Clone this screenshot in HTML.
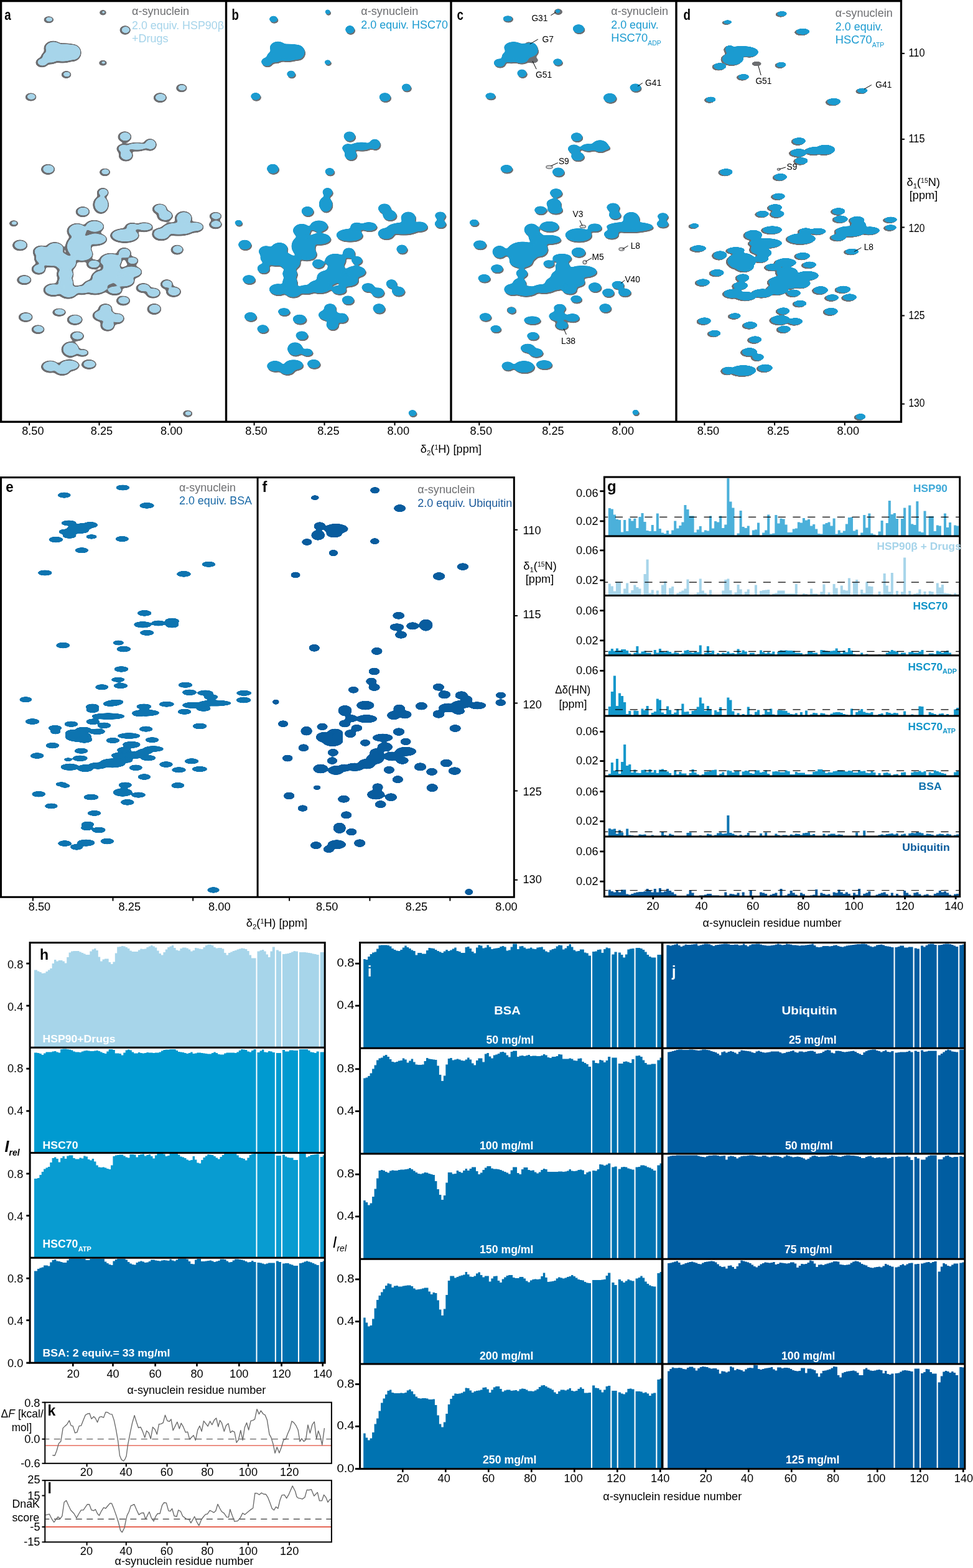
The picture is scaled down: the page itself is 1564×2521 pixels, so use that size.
<!DOCTYPE html>
<html lang="en">
<head>
<meta charset="utf-8">
<title>Figure: alpha-synuclein chaperone interactions</title>
<style>
html,body{margin:0;padding:0;background:#fff;}
body{width:1564px;height:2521px;overflow:hidden;}
svg{display:block;font-family:"Liberation Sans",sans-serif;}
</style>
</head>
<body>
<svg width="1564" height="2521" viewBox="0 0 1564 2521">
<rect width="1564" height="2521" fill="#fff"/>
<defs>
<filter id="goo" x="-3%" y="-3%" width="106%" height="106%" color-interpolation-filters="sRGB"><feGaussianBlur stdDeviation="2.0"/><feComponentTransfer><feFuncA type="linear" slope="9" intercept="-4"/></feComponentTransfer></filter>
<filter id="goo2" x="-3%" y="-3%" width="106%" height="106%" color-interpolation-filters="sRGB"><feGaussianBlur stdDeviation="1.2"/><feComponentTransfer><feFuncA type="linear" slope="9" intercept="-4"/></feComponentTransfer></filter>
<clipPath id="ca"><rect x="3" y="3" width="359" height="673.5"/></clipPath>
<clipPath id="cb"><rect x="365" y="3" width="358.5" height="673.5"/></clipPath>
<clipPath id="cc"><rect x="726.5" y="3" width="359" height="673.5"/></clipPath>
<clipPath id="cd"><rect x="1088.5" y="3" width="358.5" height="673.5"/></clipPath>
<clipPath id="ce"><rect x="3" y="769" width="409.6" height="671.8"/></clipPath>
<clipPath id="cf"><rect x="415.6" y="769" width="409.2" height="671.8"/></clipPath>
</defs>
<g clip-path="url(#ca)">
<g fill="#6d6e71" filter="url(#goo)">
<ellipse cx="78.31" cy="31.74" rx="8.38" ry="5.77"/>
<ellipse cx="165.45" cy="20.25" rx="5.99" ry="4.57"/>
<ellipse cx="201.13" cy="48.5" rx="9.02" ry="7.47"/>
<ellipse cx="85.49" cy="77.71" rx="15.27" ry="12.09"/>
<ellipse cx="107.04" cy="82.5" rx="22.55" ry="12.97"/>
<ellipse cx="80.7" cy="92.07" rx="15.16" ry="11.43"/>
<ellipse cx="67.54" cy="100.45" rx="10.56" ry="8.13"/>
<ellipse cx="116.62" cy="84.89" rx="14.17" ry="14.17"/>
<ellipse cx="99.86" cy="85.37" rx="28.53" ry="16.09"/>
<ellipse cx="165.45" cy="101.17" rx="6.95" ry="4.57"/>
<ellipse cx="106.56" cy="120.08" rx="8.38" ry="6.25"/>
<ellipse cx="49.58" cy="156" rx="9.39" ry="6.81"/>
<ellipse cx="291.86" cy="141.63" rx="9.15" ry="6.81"/>
<ellipse cx="257.39" cy="157.19" rx="11.04" ry="8.13"/>
<ellipse cx="200.41" cy="220.16" rx="11.2" ry="9.12"/>
<ellipse cx="198.01" cy="239.31" rx="11.04" ry="8.13"/>
<ellipse cx="241.11" cy="232.85" rx="10.88" ry="10.11"/>
<ellipse cx="219.56" cy="236.2" rx="18.11" ry="7.47"/>
<ellipse cx="202.32" cy="250.08" rx="11.78" ry="9.78"/>
<ellipse cx="77.11" cy="272.35" rx="11.38" ry="8.79"/>
<ellipse cx="168.57" cy="276.9" rx="9.1" ry="6.49"/>
<ellipse cx="165.21" cy="309.96" rx="9.84" ry="8.13"/>
<ellipse cx="162.1" cy="329.35" rx="12.97" ry="14.65"/>
<ellipse cx="132.89" cy="340.6" rx="11.62" ry="8.79"/>
<ellipse cx="22.05" cy="359.28" rx="7.66" ry="5.29"/>
<ellipse cx="32.1" cy="394.47" rx="12.4" ry="9.12"/>
<ellipse cx="256.67" cy="336.29" rx="12.16" ry="9.12"/>
<ellipse cx="265.05" cy="347.07" rx="12.98" ry="9.78"/>
<ellipse cx="294.97" cy="351.38" rx="14.07" ry="12.09"/>
<ellipse cx="346.45" cy="347.78" rx="10.4" ry="7.14"/>
<ellipse cx="346.45" cy="360.95" rx="10.93" ry="7.47"/>
<ellipse cx="312.93" cy="365.26" rx="14.79" ry="9.12"/>
<ellipse cx="286.59" cy="368.13" rx="28.33" ry="11.43"/>
<ellipse cx="259.06" cy="376.51" rx="15.06" ry="10.77"/>
<ellipse cx="231.53" cy="365.26" rx="14.63" ry="8.13"/>
<ellipse cx="212.38" cy="365.26" rx="12.13" ry="7.47"/>
<ellipse cx="200.41" cy="378.91" rx="23.65" ry="12.09"/>
<ellipse cx="151.33" cy="364.54" rx="16.25" ry="10.77"/>
<ellipse cx="123.8" cy="371.72" rx="16.56" ry="12.97"/>
<ellipse cx="152.53" cy="384.89" rx="19.84" ry="10.77"/>
<ellipse cx="126.19" cy="396.86" rx="21.35" ry="20.16"/>
<ellipse cx="87.89" cy="400.45" rx="15.16" ry="11.43"/>
<ellipse cx="66.34" cy="405.24" rx="13.86" ry="10.77"/>
<ellipse cx="83.1" cy="416.02" rx="28.53" ry="14.17"/>
<ellipse cx="130.98" cy="408.83" rx="18.96" ry="12.97"/>
<ellipse cx="104.64" cy="423.2" rx="18.96" ry="14.17"/>
<ellipse cx="62.03" cy="432.77" rx="11.68" ry="9.12"/>
<ellipse cx="150.13" cy="425.11" rx="11.52" ry="8.13"/>
<ellipse cx="199.45" cy="407.64" rx="11.78" ry="9.78"/>
<ellipse cx="212.38" cy="419.61" rx="10.45" ry="7.47"/>
<ellipse cx="177.66" cy="419.61" rx="18.96" ry="12.97"/>
<ellipse cx="178.86" cy="435.17" rx="16.56" ry="16.56"/>
<ellipse cx="209.98" cy="437.56" rx="18.65" ry="10.77"/>
<ellipse cx="104.64" cy="441.15" rx="13.97" ry="11.43"/>
<ellipse cx="38.81" cy="450.25" rx="12" ry="8.13"/>
<ellipse cx="104.64" cy="454.32" rx="13.97" ry="11.43"/>
<ellipse cx="166.89" cy="447.14" rx="21.35" ry="14.17"/>
<ellipse cx="198.01" cy="451.93" rx="18.75" ry="11.43"/>
<ellipse cx="152.53" cy="461.5" rx="21.35" ry="12.97"/>
<ellipse cx="85.49" cy="466.29" rx="16.25" ry="10.77"/>
<ellipse cx="109.43" cy="468.68" rx="16.47" ry="12.09"/>
<ellipse cx="130.98" cy="466.29" rx="15.83" ry="8.13"/>
<ellipse cx="183.65" cy="467.01" rx="13.43" ry="8.13"/>
<ellipse cx="230.33" cy="463.18" rx="12.24" ry="8.13"/>
<ellipse cx="245.89" cy="471.08" rx="12.34" ry="8.79"/>
<ellipse cx="267.92" cy="457.19" rx="10.56" ry="8.13"/>
<ellipse cx="278.93" cy="469.16" rx="12.34" ry="8.79"/>
<ellipse cx="198.01" cy="483.53" rx="11.52" ry="8.13"/>
<ellipse cx="247.81" cy="496.93" rx="11.68" ry="9.12"/>
<ellipse cx="169.28" cy="496.22" rx="11.52" ry="8.13"/>
<ellipse cx="166.89" cy="507.47" rx="18.65" ry="10.77"/>
<ellipse cx="188.44" cy="512.26" rx="11.68" ry="9.12"/>
<ellipse cx="172.88" cy="523.27" rx="11.78" ry="9.78"/>
<ellipse cx="95.07" cy="502.2" rx="11.3" ry="6.81"/>
<ellipse cx="41.2" cy="510.1" rx="11.76" ry="8.13"/>
<ellipse cx="120.21" cy="514.17" rx="12.82" ry="8.79"/>
<ellipse cx="61.07" cy="529.73" rx="10.93" ry="7.47"/>
<ellipse cx="123.8" cy="540.51" rx="11.52" ry="8.13"/>
<ellipse cx="113.02" cy="562.05" rx="14.65" ry="12.97"/>
<ellipse cx="132.18" cy="567.32" rx="10.78" ry="6.49"/>
<ellipse cx="80.7" cy="589.58" rx="14.95" ry="10.11"/>
<ellipse cx="110.63" cy="587.67" rx="17.29" ry="9.78"/>
<ellipse cx="99.86" cy="596.05" rx="13.43" ry="8.13"/>
<ellipse cx="142.95" cy="585.99" rx="12.24" ry="8.13"/>
<ellipse cx="284.68" cy="401.65" rx="10.56" ry="8.13"/>
<ellipse cx="301.7" cy="665.1" rx="8.2" ry="5.8"/>
</g>
<g fill="#a7d5ea" filter="url(#goo)">
<ellipse cx="79.11" cy="31.14" rx="6.18" ry="3.57"/>
<ellipse cx="166.25" cy="19.65" rx="3.79" ry="2.37"/>
<ellipse cx="201.93" cy="47.9" rx="6.82" ry="5.27"/>
<ellipse cx="86.29" cy="77.11" rx="13.07" ry="9.89"/>
<ellipse cx="107.84" cy="81.9" rx="20.35" ry="10.77"/>
<ellipse cx="81.5" cy="91.47" rx="12.96" ry="9.23"/>
<ellipse cx="68.34" cy="99.85" rx="8.36" ry="5.93"/>
<ellipse cx="117.42" cy="84.29" rx="11.97" ry="11.97"/>
<ellipse cx="100.66" cy="84.77" rx="26.33" ry="13.89"/>
<ellipse cx="166.25" cy="100.57" rx="4.75" ry="2.37"/>
<ellipse cx="107.36" cy="119.48" rx="6.18" ry="4.05"/>
<ellipse cx="50.38" cy="155.4" rx="7.19" ry="4.61"/>
<ellipse cx="292.66" cy="141.03" rx="6.95" ry="4.61"/>
<ellipse cx="258.19" cy="156.59" rx="8.84" ry="5.93"/>
<ellipse cx="201.21" cy="219.56" rx="9" ry="6.92"/>
<ellipse cx="198.81" cy="238.71" rx="8.84" ry="5.93"/>
<ellipse cx="241.91" cy="232.25" rx="8.68" ry="7.91"/>
<ellipse cx="220.36" cy="235.6" rx="15.91" ry="5.27"/>
<ellipse cx="203.12" cy="249.48" rx="9.58" ry="7.58"/>
<ellipse cx="77.91" cy="271.75" rx="9.18" ry="6.59"/>
<ellipse cx="169.37" cy="276.3" rx="6.9" ry="4.29"/>
<ellipse cx="166.01" cy="309.36" rx="7.64" ry="5.93"/>
<ellipse cx="162.9" cy="328.75" rx="10.77" ry="12.45"/>
<ellipse cx="133.69" cy="340" rx="9.42" ry="6.59"/>
<ellipse cx="22.85" cy="358.68" rx="5.46" ry="3.09"/>
<ellipse cx="32.9" cy="393.87" rx="10.2" ry="6.92"/>
<ellipse cx="257.47" cy="335.69" rx="9.96" ry="6.92"/>
<ellipse cx="265.85" cy="346.47" rx="10.78" ry="7.58"/>
<ellipse cx="295.77" cy="350.78" rx="11.87" ry="9.89"/>
<ellipse cx="347.25" cy="347.18" rx="8.2" ry="4.94"/>
<ellipse cx="347.25" cy="360.35" rx="8.73" ry="5.27"/>
<ellipse cx="313.73" cy="364.66" rx="12.59" ry="6.92"/>
<ellipse cx="287.39" cy="367.53" rx="26.13" ry="9.23"/>
<ellipse cx="259.86" cy="375.91" rx="12.86" ry="8.57"/>
<ellipse cx="232.33" cy="364.66" rx="12.43" ry="5.93"/>
<ellipse cx="213.18" cy="364.66" rx="9.93" ry="5.27"/>
<ellipse cx="201.21" cy="378.31" rx="21.45" ry="9.89"/>
<ellipse cx="152.13" cy="363.94" rx="14.05" ry="8.57"/>
<ellipse cx="124.6" cy="371.12" rx="14.36" ry="10.77"/>
<ellipse cx="153.33" cy="384.29" rx="17.64" ry="8.57"/>
<ellipse cx="126.99" cy="396.26" rx="19.15" ry="17.96"/>
<ellipse cx="88.69" cy="399.85" rx="12.96" ry="9.23"/>
<ellipse cx="67.14" cy="404.64" rx="11.66" ry="8.57"/>
<ellipse cx="83.9" cy="415.42" rx="26.33" ry="11.97"/>
<ellipse cx="131.78" cy="408.23" rx="16.76" ry="10.77"/>
<ellipse cx="105.44" cy="422.6" rx="16.76" ry="11.97"/>
<ellipse cx="62.83" cy="432.17" rx="9.48" ry="6.92"/>
<ellipse cx="150.93" cy="424.51" rx="9.32" ry="5.93"/>
<ellipse cx="200.25" cy="407.04" rx="9.58" ry="7.58"/>
<ellipse cx="213.18" cy="419.01" rx="8.25" ry="5.27"/>
<ellipse cx="178.46" cy="419.01" rx="16.76" ry="10.77"/>
<ellipse cx="179.66" cy="434.57" rx="14.36" ry="14.36"/>
<ellipse cx="210.78" cy="436.96" rx="16.45" ry="8.57"/>
<ellipse cx="105.44" cy="440.55" rx="11.77" ry="9.23"/>
<ellipse cx="39.61" cy="449.65" rx="9.8" ry="5.93"/>
<ellipse cx="105.44" cy="453.72" rx="11.77" ry="9.23"/>
<ellipse cx="167.69" cy="446.54" rx="19.15" ry="11.97"/>
<ellipse cx="198.81" cy="451.33" rx="16.55" ry="9.23"/>
<ellipse cx="153.33" cy="460.9" rx="19.15" ry="10.77"/>
<ellipse cx="86.29" cy="465.69" rx="14.05" ry="8.57"/>
<ellipse cx="110.23" cy="468.08" rx="14.27" ry="9.89"/>
<ellipse cx="131.78" cy="465.69" rx="13.63" ry="5.93"/>
<ellipse cx="184.45" cy="466.41" rx="11.23" ry="5.93"/>
<ellipse cx="231.13" cy="462.58" rx="10.04" ry="5.93"/>
<ellipse cx="246.69" cy="470.48" rx="10.14" ry="6.59"/>
<ellipse cx="268.72" cy="456.59" rx="8.36" ry="5.93"/>
<ellipse cx="279.73" cy="468.56" rx="10.14" ry="6.59"/>
<ellipse cx="198.81" cy="482.93" rx="9.32" ry="5.93"/>
<ellipse cx="248.61" cy="496.33" rx="9.48" ry="6.92"/>
<ellipse cx="170.08" cy="495.62" rx="9.32" ry="5.93"/>
<ellipse cx="167.69" cy="506.87" rx="16.45" ry="8.57"/>
<ellipse cx="189.24" cy="511.66" rx="9.48" ry="6.92"/>
<ellipse cx="173.68" cy="522.67" rx="9.58" ry="7.58"/>
<ellipse cx="95.87" cy="501.6" rx="9.1" ry="4.61"/>
<ellipse cx="42" cy="509.5" rx="9.56" ry="5.93"/>
<ellipse cx="121.01" cy="513.57" rx="10.62" ry="6.59"/>
<ellipse cx="61.87" cy="529.13" rx="8.73" ry="5.27"/>
<ellipse cx="124.6" cy="539.91" rx="9.32" ry="5.93"/>
<ellipse cx="113.82" cy="561.45" rx="12.45" ry="10.77"/>
<ellipse cx="132.98" cy="566.72" rx="8.58" ry="4.29"/>
<ellipse cx="81.5" cy="588.98" rx="12.75" ry="7.91"/>
<ellipse cx="111.43" cy="587.07" rx="15.09" ry="7.58"/>
<ellipse cx="100.66" cy="595.45" rx="11.23" ry="5.93"/>
<ellipse cx="143.75" cy="585.39" rx="10.04" ry="5.93"/>
<ellipse cx="285.48" cy="401.05" rx="8.36" ry="5.93"/>
<ellipse cx="302.5" cy="664.5" rx="6" ry="3.6"/>
</g>
</g>
<g clip-path="url(#cb)">
<g fill="#6d6e71" filter="url(#goo)">
<ellipse cx="440.91" cy="32.64" rx="7.18" ry="5.27"/>
<ellipse cx="528.05" cy="21.15" rx="4.79" ry="4.07"/>
<ellipse cx="563.73" cy="49.4" rx="7.66" ry="6.7"/>
<ellipse cx="448.09" cy="78.61" rx="13.17" ry="10.06"/>
<ellipse cx="469.64" cy="83.4" rx="20.35" ry="10.77"/>
<ellipse cx="443.3" cy="92.97" rx="13.17" ry="9.58"/>
<ellipse cx="430.14" cy="101.35" rx="9.1" ry="7.18"/>
<ellipse cx="479.22" cy="85.79" rx="11.97" ry="11.97"/>
<ellipse cx="462.46" cy="86.27" rx="26.33" ry="13.89"/>
<ellipse cx="528.05" cy="102.07" rx="5.75" ry="4.07"/>
<ellipse cx="469.16" cy="120.98" rx="7.18" ry="5.75"/>
<ellipse cx="412.18" cy="156.9" rx="8.14" ry="6.22"/>
<ellipse cx="654.46" cy="142.53" rx="7.9" ry="6.22"/>
<ellipse cx="619.99" cy="158.09" rx="9.58" ry="7.18"/>
<ellipse cx="563.01" cy="221.06" rx="9.58" ry="7.9"/>
<ellipse cx="560.61" cy="240.21" rx="9.58" ry="7.18"/>
<ellipse cx="603.71" cy="233.75" rx="9.1" ry="8.62"/>
<ellipse cx="582.16" cy="237.1" rx="16.76" ry="6.7"/>
<ellipse cx="564.92" cy="250.98" rx="10.06" ry="8.38"/>
<ellipse cx="439.71" cy="273.25" rx="9.82" ry="7.66"/>
<ellipse cx="531.17" cy="277.8" rx="7.9" ry="5.99"/>
<ellipse cx="527.81" cy="310.86" rx="8.38" ry="7.18"/>
<ellipse cx="524.7" cy="330.25" rx="10.77" ry="12.45"/>
<ellipse cx="495.49" cy="341.5" rx="10.06" ry="7.66"/>
<ellipse cx="384.65" cy="360.18" rx="6.46" ry="4.79"/>
<ellipse cx="394.7" cy="395.37" rx="10.77" ry="7.9"/>
<ellipse cx="619.27" cy="337.19" rx="10.53" ry="7.9"/>
<ellipse cx="627.65" cy="347.97" rx="11.25" ry="8.38"/>
<ellipse cx="657.57" cy="352.28" rx="11.97" ry="10.06"/>
<ellipse cx="709.05" cy="348.68" rx="9.1" ry="6.46"/>
<ellipse cx="709.05" cy="361.85" rx="9.58" ry="6.7"/>
<ellipse cx="675.53" cy="366.16" rx="13.17" ry="7.9"/>
<ellipse cx="649.19" cy="369.03" rx="26.33" ry="9.58"/>
<ellipse cx="621.66" cy="377.41" rx="13.17" ry="9.1"/>
<ellipse cx="594.13" cy="366.16" rx="13.17" ry="7.18"/>
<ellipse cx="574.98" cy="366.16" rx="10.77" ry="6.7"/>
<ellipse cx="563.01" cy="379.81" rx="21.55" ry="10.06"/>
<ellipse cx="513.93" cy="365.44" rx="14.36" ry="9.1"/>
<ellipse cx="486.4" cy="372.62" rx="14.36" ry="10.77"/>
<ellipse cx="515.13" cy="385.79" rx="17.96" ry="9.1"/>
<ellipse cx="488.79" cy="397.76" rx="19.15" ry="17.96"/>
<ellipse cx="450.49" cy="401.35" rx="13.17" ry="9.58"/>
<ellipse cx="428.94" cy="406.14" rx="11.97" ry="9.1"/>
<ellipse cx="445.7" cy="416.92" rx="26.33" ry="11.97"/>
<ellipse cx="493.58" cy="409.73" rx="16.76" ry="10.77"/>
<ellipse cx="467.24" cy="424.1" rx="16.76" ry="11.97"/>
<ellipse cx="424.63" cy="433.67" rx="10.06" ry="7.9"/>
<ellipse cx="512.73" cy="426.01" rx="10.06" ry="7.18"/>
<ellipse cx="562.05" cy="408.54" rx="10.06" ry="8.38"/>
<ellipse cx="574.98" cy="420.51" rx="9.1" ry="6.7"/>
<ellipse cx="540.26" cy="420.51" rx="16.76" ry="10.77"/>
<ellipse cx="541.46" cy="436.07" rx="14.36" ry="14.36"/>
<ellipse cx="572.58" cy="438.46" rx="16.76" ry="9.1"/>
<ellipse cx="467.24" cy="442.05" rx="11.97" ry="9.58"/>
<ellipse cx="401.41" cy="451.15" rx="10.53" ry="7.18"/>
<ellipse cx="467.24" cy="455.22" rx="11.97" ry="9.58"/>
<ellipse cx="529.49" cy="448.04" rx="19.15" ry="11.97"/>
<ellipse cx="560.61" cy="452.83" rx="16.76" ry="9.58"/>
<ellipse cx="515.13" cy="462.4" rx="19.15" ry="10.77"/>
<ellipse cx="448.09" cy="467.19" rx="14.36" ry="9.1"/>
<ellipse cx="472.03" cy="469.58" rx="14.36" ry="10.06"/>
<ellipse cx="493.58" cy="467.19" rx="14.36" ry="7.18"/>
<ellipse cx="546.25" cy="467.91" rx="11.97" ry="7.18"/>
<ellipse cx="592.93" cy="464.08" rx="10.77" ry="7.18"/>
<ellipse cx="608.49" cy="471.98" rx="10.77" ry="7.66"/>
<ellipse cx="630.52" cy="458.09" rx="9.1" ry="7.18"/>
<ellipse cx="641.53" cy="470.06" rx="10.77" ry="7.66"/>
<ellipse cx="560.61" cy="484.43" rx="10.06" ry="7.18"/>
<ellipse cx="610.41" cy="497.83" rx="10.06" ry="7.9"/>
<ellipse cx="531.88" cy="497.12" rx="10.06" ry="7.18"/>
<ellipse cx="529.49" cy="508.37" rx="16.76" ry="9.1"/>
<ellipse cx="551.04" cy="513.16" rx="10.06" ry="7.9"/>
<ellipse cx="535.48" cy="524.17" rx="10.06" ry="8.38"/>
<ellipse cx="457.67" cy="503.1" rx="10.06" ry="6.22"/>
<ellipse cx="403.8" cy="511" rx="10.29" ry="7.18"/>
<ellipse cx="482.81" cy="515.07" rx="11.25" ry="7.66"/>
<ellipse cx="423.67" cy="530.63" rx="9.58" ry="6.7"/>
<ellipse cx="486.4" cy="541.41" rx="10.06" ry="7.18"/>
<ellipse cx="475.62" cy="562.95" rx="12.45" ry="10.77"/>
<ellipse cx="494.78" cy="568.22" rx="9.58" ry="5.99"/>
<ellipse cx="443.3" cy="590.48" rx="13.17" ry="8.62"/>
<ellipse cx="473.23" cy="588.57" rx="15.56" ry="8.38"/>
<ellipse cx="462.46" cy="596.95" rx="11.97" ry="7.18"/>
<ellipse cx="505.55" cy="586.89" rx="10.77" ry="7.18"/>
<ellipse cx="647.28" cy="402.55" rx="9.1" ry="7.18"/>
<ellipse cx="664.3" cy="666" rx="7" ry="5.3"/>
</g>
<g fill="#1b9bd0" filter="url(#goo)">
<ellipse cx="439.61" cy="30.64" rx="7.18" ry="5.27"/>
<ellipse cx="526.75" cy="19.15" rx="4.79" ry="4.07"/>
<ellipse cx="562.43" cy="47.4" rx="7.66" ry="6.7"/>
<ellipse cx="446.79" cy="76.61" rx="13.17" ry="10.06"/>
<ellipse cx="468.34" cy="81.4" rx="20.35" ry="10.77"/>
<ellipse cx="442" cy="90.97" rx="13.17" ry="9.58"/>
<ellipse cx="428.84" cy="99.35" rx="9.1" ry="7.18"/>
<ellipse cx="477.92" cy="83.79" rx="11.97" ry="11.97"/>
<ellipse cx="461.16" cy="84.27" rx="26.33" ry="13.89"/>
<ellipse cx="526.75" cy="100.07" rx="5.75" ry="4.07"/>
<ellipse cx="467.86" cy="118.98" rx="7.18" ry="5.75"/>
<ellipse cx="410.88" cy="154.9" rx="8.14" ry="6.22"/>
<ellipse cx="653.16" cy="140.53" rx="7.9" ry="6.22"/>
<ellipse cx="618.69" cy="156.09" rx="9.58" ry="7.18"/>
<ellipse cx="561.71" cy="219.06" rx="9.58" ry="7.9"/>
<ellipse cx="559.31" cy="238.21" rx="9.58" ry="7.18"/>
<ellipse cx="602.41" cy="231.75" rx="9.1" ry="8.62"/>
<ellipse cx="580.86" cy="235.1" rx="16.76" ry="6.7"/>
<ellipse cx="563.62" cy="248.98" rx="10.06" ry="8.38"/>
<ellipse cx="438.41" cy="271.25" rx="9.82" ry="7.66"/>
<ellipse cx="529.87" cy="275.8" rx="7.9" ry="5.99"/>
<ellipse cx="526.51" cy="308.86" rx="8.38" ry="7.18"/>
<ellipse cx="523.4" cy="328.25" rx="10.77" ry="12.45"/>
<ellipse cx="494.19" cy="339.5" rx="10.06" ry="7.66"/>
<ellipse cx="383.35" cy="358.18" rx="6.46" ry="4.79"/>
<ellipse cx="393.4" cy="393.37" rx="10.77" ry="7.9"/>
<ellipse cx="617.97" cy="335.19" rx="10.53" ry="7.9"/>
<ellipse cx="626.35" cy="345.97" rx="11.25" ry="8.38"/>
<ellipse cx="656.27" cy="350.28" rx="11.97" ry="10.06"/>
<ellipse cx="707.75" cy="346.68" rx="9.1" ry="6.46"/>
<ellipse cx="707.75" cy="359.85" rx="9.58" ry="6.7"/>
<ellipse cx="674.23" cy="364.16" rx="13.17" ry="7.9"/>
<ellipse cx="647.89" cy="367.03" rx="26.33" ry="9.58"/>
<ellipse cx="620.36" cy="375.41" rx="13.17" ry="9.1"/>
<ellipse cx="592.83" cy="364.16" rx="13.17" ry="7.18"/>
<ellipse cx="573.68" cy="364.16" rx="10.77" ry="6.7"/>
<ellipse cx="561.71" cy="377.81" rx="21.55" ry="10.06"/>
<ellipse cx="512.63" cy="363.44" rx="14.36" ry="9.1"/>
<ellipse cx="485.1" cy="370.62" rx="14.36" ry="10.77"/>
<ellipse cx="513.83" cy="383.79" rx="17.96" ry="9.1"/>
<ellipse cx="487.49" cy="395.76" rx="19.15" ry="17.96"/>
<ellipse cx="449.19" cy="399.35" rx="13.17" ry="9.58"/>
<ellipse cx="427.64" cy="404.14" rx="11.97" ry="9.1"/>
<ellipse cx="444.4" cy="414.92" rx="26.33" ry="11.97"/>
<ellipse cx="492.28" cy="407.73" rx="16.76" ry="10.77"/>
<ellipse cx="465.94" cy="422.1" rx="16.76" ry="11.97"/>
<ellipse cx="423.33" cy="431.67" rx="10.06" ry="7.9"/>
<ellipse cx="511.43" cy="424.01" rx="10.06" ry="7.18"/>
<ellipse cx="560.75" cy="406.54" rx="10.06" ry="8.38"/>
<ellipse cx="573.68" cy="418.51" rx="9.1" ry="6.7"/>
<ellipse cx="538.96" cy="418.51" rx="16.76" ry="10.77"/>
<ellipse cx="540.16" cy="434.07" rx="14.36" ry="14.36"/>
<ellipse cx="571.28" cy="436.46" rx="16.76" ry="9.1"/>
<ellipse cx="465.94" cy="440.05" rx="11.97" ry="9.58"/>
<ellipse cx="400.11" cy="449.15" rx="10.53" ry="7.18"/>
<ellipse cx="465.94" cy="453.22" rx="11.97" ry="9.58"/>
<ellipse cx="528.19" cy="446.04" rx="19.15" ry="11.97"/>
<ellipse cx="559.31" cy="450.83" rx="16.76" ry="9.58"/>
<ellipse cx="513.83" cy="460.4" rx="19.15" ry="10.77"/>
<ellipse cx="446.79" cy="465.19" rx="14.36" ry="9.1"/>
<ellipse cx="470.73" cy="467.58" rx="14.36" ry="10.06"/>
<ellipse cx="492.28" cy="465.19" rx="14.36" ry="7.18"/>
<ellipse cx="544.95" cy="465.91" rx="11.97" ry="7.18"/>
<ellipse cx="591.63" cy="462.08" rx="10.77" ry="7.18"/>
<ellipse cx="607.19" cy="469.98" rx="10.77" ry="7.66"/>
<ellipse cx="629.22" cy="456.09" rx="9.1" ry="7.18"/>
<ellipse cx="640.23" cy="468.06" rx="10.77" ry="7.66"/>
<ellipse cx="559.31" cy="482.43" rx="10.06" ry="7.18"/>
<ellipse cx="609.11" cy="495.83" rx="10.06" ry="7.9"/>
<ellipse cx="530.58" cy="495.12" rx="10.06" ry="7.18"/>
<ellipse cx="528.19" cy="506.37" rx="16.76" ry="9.1"/>
<ellipse cx="549.74" cy="511.16" rx="10.06" ry="7.9"/>
<ellipse cx="534.18" cy="522.17" rx="10.06" ry="8.38"/>
<ellipse cx="456.37" cy="501.1" rx="10.06" ry="6.22"/>
<ellipse cx="402.5" cy="509" rx="10.29" ry="7.18"/>
<ellipse cx="481.51" cy="513.07" rx="11.25" ry="7.66"/>
<ellipse cx="422.37" cy="528.63" rx="9.58" ry="6.7"/>
<ellipse cx="485.1" cy="539.41" rx="10.06" ry="7.18"/>
<ellipse cx="474.32" cy="560.95" rx="12.45" ry="10.77"/>
<ellipse cx="493.48" cy="566.22" rx="9.58" ry="5.99"/>
<ellipse cx="442" cy="588.48" rx="13.17" ry="8.62"/>
<ellipse cx="471.93" cy="586.57" rx="15.56" ry="8.38"/>
<ellipse cx="461.16" cy="594.95" rx="11.97" ry="7.18"/>
<ellipse cx="504.25" cy="584.89" rx="10.77" ry="7.18"/>
<ellipse cx="645.98" cy="400.55" rx="9.1" ry="7.18"/>
<ellipse cx="663" cy="664" rx="7" ry="5.3"/>
</g>
</g>
<g clip-path="url(#cc)">
<g fill="#6d6e71" filter="url(#goo)">
<ellipse cx="817.27" cy="31.93" rx="8.14" ry="4.79"/>
<ellipse cx="897.95" cy="19.96" rx="4.79" ry="3.35"/>
<ellipse cx="931.23" cy="48.21" rx="9.58" ry="7.18"/>
<ellipse cx="826.85" cy="78.61" rx="15.56" ry="9.58"/>
<ellipse cx="846" cy="83.4" rx="20.35" ry="11.97"/>
<ellipse cx="822.06" cy="92.97" rx="14.36" ry="9.58"/>
<ellipse cx="838.82" cy="96.57" rx="11.97" ry="7.18"/>
<ellipse cx="855.58" cy="78.61" rx="9.58" ry="8.38"/>
<ellipse cx="804.11" cy="103.03" rx="9.58" ry="6.7"/>
<ellipse cx="897.71" cy="101.59" rx="7.9" ry="5.51"/>
<ellipse cx="840.26" cy="119.79" rx="8.14" ry="6.46"/>
<ellipse cx="789.5" cy="156.18" rx="8.62" ry="5.27"/>
<ellipse cx="1022.68" cy="142.77" rx="9.58" ry="6.46"/>
<ellipse cx="981.51" cy="159.29" rx="10.77" ry="7.66"/>
<ellipse cx="928.12" cy="222.25" rx="9.58" ry="7.18"/>
<ellipse cx="923.81" cy="241.41" rx="10.06" ry="7.18"/>
<ellipse cx="929.8" cy="253.38" rx="10.77" ry="7.18"/>
<ellipse cx="946.55" cy="239.01" rx="11.97" ry="5.99"/>
<ellipse cx="965.71" cy="236.62" rx="13.17" ry="9.58"/>
<ellipse cx="976.48" cy="239.01" rx="5.99" ry="3.59"/>
<ellipse cx="815.36" cy="273.25" rx="10.06" ry="6.46"/>
<ellipse cx="898.67" cy="278.51" rx="10.06" ry="7.18"/>
<ellipse cx="895.08" cy="312.06" rx="10.29" ry="7.18"/>
<ellipse cx="891.49" cy="329.53" rx="11.97" ry="8.38"/>
<ellipse cx="893.88" cy="339.11" rx="11.97" ry="6.7"/>
<ellipse cx="869.94" cy="339.83" rx="10.06" ry="6.7"/>
<ellipse cx="986.77" cy="335.52" rx="10.77" ry="7.18"/>
<ellipse cx="989.65" cy="347.49" rx="10.06" ry="6.7"/>
<ellipse cx="763.41" cy="359.94" rx="7.9" ry="5.51"/>
<ellipse cx="1015.98" cy="353.47" rx="13.17" ry="10.77"/>
<ellipse cx="1066.74" cy="349.88" rx="9.1" ry="5.99"/>
<ellipse cx="1066.26" cy="361.85" rx="10.06" ry="5.99"/>
<ellipse cx="1013.59" cy="366.64" rx="38.31" ry="8.38"/>
<ellipse cx="983.66" cy="378.61" rx="11.97" ry="7.18"/>
<ellipse cx="957.33" cy="367.84" rx="11.49" ry="6.7"/>
<ellipse cx="930.99" cy="379.81" rx="21.55" ry="10.77"/>
<ellipse cx="884.31" cy="366.16" rx="15.56" ry="8.38"/>
<ellipse cx="855.58" cy="371.43" rx="11.97" ry="10.06"/>
<ellipse cx="862.76" cy="383.4" rx="11.97" ry="9.58"/>
<ellipse cx="884.31" cy="386.99" rx="19.15" ry="7.18"/>
<ellipse cx="772.51" cy="395.37" rx="10.77" ry="7.18"/>
<ellipse cx="804.11" cy="406.86" rx="11.49" ry="10.06"/>
<ellipse cx="841.22" cy="407.34" rx="26.33" ry="16.76"/>
<ellipse cx="867.55" cy="402.55" rx="14.36" ry="11.97"/>
<ellipse cx="838.82" cy="421.7" rx="19.15" ry="10.77"/>
<ellipse cx="930.99" cy="407.34" rx="11.49" ry="7.66"/>
<ellipse cx="904.66" cy="416.92" rx="15.56" ry="7.18"/>
<ellipse cx="883.11" cy="426.01" rx="9.1" ry="5.99"/>
<ellipse cx="800.04" cy="433.67" rx="10.29" ry="6.7"/>
<ellipse cx="905.85" cy="431.28" rx="11.97" ry="9.58"/>
<ellipse cx="840.02" cy="441.33" rx="9.58" ry="7.18"/>
<ellipse cx="936.98" cy="438.46" rx="23.94" ry="9.58"/>
<ellipse cx="913.04" cy="445.64" rx="26.33" ry="11.97"/>
<ellipse cx="779.45" cy="449.23" rx="10.29" ry="6.46"/>
<ellipse cx="836.43" cy="456.42" rx="10.77" ry="7.18"/>
<ellipse cx="893.88" cy="457.61" rx="16.76" ry="10.77"/>
<ellipse cx="925.01" cy="455.22" rx="16.76" ry="8.38"/>
<ellipse cx="957.33" cy="463.6" rx="10.77" ry="7.66"/>
<ellipse cx="994.44" cy="460.01" rx="10.29" ry="6.46"/>
<ellipse cx="824.46" cy="467.19" rx="13.17" ry="9.1"/>
<ellipse cx="846" cy="469.58" rx="19.15" ry="8.38"/>
<ellipse cx="874.73" cy="465.99" rx="19.15" ry="7.18"/>
<ellipse cx="916.63" cy="467.19" rx="11.97" ry="7.66"/>
<ellipse cx="978.87" cy="472.46" rx="10.06" ry="6.7"/>
<ellipse cx="1005.21" cy="471.98" rx="10.77" ry="6.46"/>
<ellipse cx="927.4" cy="482.75" rx="9.58" ry="5.99"/>
<ellipse cx="974.09" cy="497.12" rx="10.06" ry="7.18"/>
<ellipse cx="901.07" cy="497.12" rx="10.06" ry="6.7"/>
<ellipse cx="823.74" cy="500.71" rx="7.18" ry="5.27"/>
<ellipse cx="781.36" cy="511.48" rx="10.06" ry="6.46"/>
<ellipse cx="897.48" cy="510.28" rx="14.36" ry="7.66"/>
<ellipse cx="921.42" cy="512.68" rx="11.49" ry="6.7"/>
<ellipse cx="856.78" cy="516.75" rx="13.89" ry="6.46"/>
<ellipse cx="904.66" cy="525.13" rx="10.06" ry="6.7"/>
<ellipse cx="798.12" cy="530.63" rx="9.1" ry="5.99"/>
<ellipse cx="857.97" cy="542.12" rx="10.06" ry="6.46"/>
<ellipse cx="849.59" cy="561.76" rx="11.97" ry="7.18"/>
<ellipse cx="862.76" cy="568.94" rx="11.49" ry="7.18"/>
<ellipse cx="817.27" cy="590.48" rx="10.06" ry="7.18"/>
<ellipse cx="843.61" cy="591.68" rx="16.76" ry="9.58"/>
<ellipse cx="875.93" cy="588.09" rx="13.17" ry="7.18"/>
<ellipse cx="1022.9" cy="665" rx="5.8" ry="4.5"/>
<ellipse cx="849.97" cy="71.58" rx="6.7" ry="4.31"/>
<ellipse cx="856.19" cy="96.96" rx="9.58" ry="4.79"/>
<ellipse cx="897.37" cy="19.15" rx="7.18" ry="5.03"/>
<ellipse cx="816.93" cy="30.64" rx="8.62" ry="5.27"/>
<ellipse cx="902.64" cy="523.61" rx="11.01" ry="7.66"/>
<ellipse cx="821.96" cy="498.71" rx="7.9" ry="5.75"/>
</g>
<g fill="#1b9bd0" filter="url(#goo)">
<ellipse cx="815.97" cy="29.93" rx="8.14" ry="4.79"/>
<ellipse cx="896.65" cy="17.96" rx="4.79" ry="3.35"/>
<ellipse cx="929.93" cy="46.21" rx="9.58" ry="7.18"/>
<ellipse cx="825.55" cy="76.61" rx="15.56" ry="9.58"/>
<ellipse cx="844.7" cy="81.4" rx="20.35" ry="11.97"/>
<ellipse cx="820.76" cy="90.97" rx="14.36" ry="9.58"/>
<ellipse cx="837.52" cy="94.57" rx="11.97" ry="7.18"/>
<ellipse cx="854.28" cy="76.61" rx="9.58" ry="8.38"/>
<ellipse cx="802.81" cy="101.03" rx="9.58" ry="6.7"/>
<ellipse cx="896.41" cy="99.59" rx="7.9" ry="5.51"/>
<ellipse cx="838.96" cy="117.79" rx="8.14" ry="6.46"/>
<ellipse cx="788.2" cy="154.18" rx="8.62" ry="5.27"/>
<ellipse cx="1021.38" cy="140.77" rx="9.58" ry="6.46"/>
<ellipse cx="980.21" cy="157.29" rx="10.77" ry="7.66"/>
<ellipse cx="926.82" cy="220.25" rx="9.58" ry="7.18"/>
<ellipse cx="922.51" cy="239.41" rx="10.06" ry="7.18"/>
<ellipse cx="928.5" cy="251.38" rx="10.77" ry="7.18"/>
<ellipse cx="945.25" cy="237.01" rx="11.97" ry="5.99"/>
<ellipse cx="964.41" cy="234.62" rx="13.17" ry="9.58"/>
<ellipse cx="975.18" cy="237.01" rx="5.99" ry="3.59"/>
<ellipse cx="814.06" cy="271.25" rx="10.06" ry="6.46"/>
<ellipse cx="897.37" cy="276.51" rx="10.06" ry="7.18"/>
<ellipse cx="893.78" cy="310.06" rx="10.29" ry="7.18"/>
<ellipse cx="890.19" cy="327.53" rx="11.97" ry="8.38"/>
<ellipse cx="892.58" cy="337.11" rx="11.97" ry="6.7"/>
<ellipse cx="868.64" cy="337.83" rx="10.06" ry="6.7"/>
<ellipse cx="985.47" cy="333.52" rx="10.77" ry="7.18"/>
<ellipse cx="988.35" cy="345.49" rx="10.06" ry="6.7"/>
<ellipse cx="762.11" cy="357.94" rx="7.9" ry="5.51"/>
<ellipse cx="1014.68" cy="351.47" rx="13.17" ry="10.77"/>
<ellipse cx="1065.44" cy="347.88" rx="9.1" ry="5.99"/>
<ellipse cx="1064.96" cy="359.85" rx="10.06" ry="5.99"/>
<ellipse cx="1012.29" cy="364.64" rx="38.31" ry="8.38"/>
<ellipse cx="982.36" cy="376.61" rx="11.97" ry="7.18"/>
<ellipse cx="956.03" cy="365.84" rx="11.49" ry="6.7"/>
<ellipse cx="929.69" cy="377.81" rx="21.55" ry="10.77"/>
<ellipse cx="883.01" cy="364.16" rx="15.56" ry="8.38"/>
<ellipse cx="854.28" cy="369.43" rx="11.97" ry="10.06"/>
<ellipse cx="861.46" cy="381.4" rx="11.97" ry="9.58"/>
<ellipse cx="883.01" cy="384.99" rx="19.15" ry="7.18"/>
<ellipse cx="771.21" cy="393.37" rx="10.77" ry="7.18"/>
<ellipse cx="802.81" cy="404.86" rx="11.49" ry="10.06"/>
<ellipse cx="839.92" cy="405.34" rx="26.33" ry="16.76"/>
<ellipse cx="866.25" cy="400.55" rx="14.36" ry="11.97"/>
<ellipse cx="837.52" cy="419.7" rx="19.15" ry="10.77"/>
<ellipse cx="929.69" cy="405.34" rx="11.49" ry="7.66"/>
<ellipse cx="903.36" cy="414.92" rx="15.56" ry="7.18"/>
<ellipse cx="881.81" cy="424.01" rx="9.1" ry="5.99"/>
<ellipse cx="798.74" cy="431.67" rx="10.29" ry="6.7"/>
<ellipse cx="904.55" cy="429.28" rx="11.97" ry="9.58"/>
<ellipse cx="838.72" cy="439.33" rx="9.58" ry="7.18"/>
<ellipse cx="935.68" cy="436.46" rx="23.94" ry="9.58"/>
<ellipse cx="911.74" cy="443.64" rx="26.33" ry="11.97"/>
<ellipse cx="778.15" cy="447.23" rx="10.29" ry="6.46"/>
<ellipse cx="835.13" cy="454.42" rx="10.77" ry="7.18"/>
<ellipse cx="892.58" cy="455.61" rx="16.76" ry="10.77"/>
<ellipse cx="923.71" cy="453.22" rx="16.76" ry="8.38"/>
<ellipse cx="956.03" cy="461.6" rx="10.77" ry="7.66"/>
<ellipse cx="993.14" cy="458.01" rx="10.29" ry="6.46"/>
<ellipse cx="823.16" cy="465.19" rx="13.17" ry="9.1"/>
<ellipse cx="844.7" cy="467.58" rx="19.15" ry="8.38"/>
<ellipse cx="873.43" cy="463.99" rx="19.15" ry="7.18"/>
<ellipse cx="915.33" cy="465.19" rx="11.97" ry="7.66"/>
<ellipse cx="977.57" cy="470.46" rx="10.06" ry="6.7"/>
<ellipse cx="1003.91" cy="469.98" rx="10.77" ry="6.46"/>
<ellipse cx="926.1" cy="480.75" rx="9.58" ry="5.99"/>
<ellipse cx="972.79" cy="495.12" rx="10.06" ry="7.18"/>
<ellipse cx="899.77" cy="495.12" rx="10.06" ry="6.7"/>
<ellipse cx="822.44" cy="498.71" rx="7.18" ry="5.27"/>
<ellipse cx="780.06" cy="509.48" rx="10.06" ry="6.46"/>
<ellipse cx="896.18" cy="508.28" rx="14.36" ry="7.66"/>
<ellipse cx="920.12" cy="510.68" rx="11.49" ry="6.7"/>
<ellipse cx="855.48" cy="514.75" rx="13.89" ry="6.46"/>
<ellipse cx="903.36" cy="523.13" rx="10.06" ry="6.7"/>
<ellipse cx="796.82" cy="528.63" rx="9.1" ry="5.99"/>
<ellipse cx="856.67" cy="540.12" rx="10.06" ry="6.46"/>
<ellipse cx="848.29" cy="559.76" rx="11.97" ry="7.18"/>
<ellipse cx="861.46" cy="566.94" rx="11.49" ry="7.18"/>
<ellipse cx="815.97" cy="588.48" rx="10.06" ry="7.18"/>
<ellipse cx="842.31" cy="589.68" rx="16.76" ry="9.58"/>
<ellipse cx="874.63" cy="586.09" rx="13.17" ry="7.18"/>
<ellipse cx="1021.6" cy="663" rx="5.8" ry="4.5"/>
</g>
<g fill="#dcdcdc" stroke="#6d6e71" stroke-width="1.3">
<ellipse cx="883.01" cy="268.61" rx="5.15" ry="2.51"/>
<ellipse cx="936.87" cy="364.16" rx="4.67" ry="2.27"/>
<ellipse cx="999.12" cy="400.55" rx="4.19" ry="2.51"/>
<ellipse cx="939.99" cy="421.62" rx="2.99" ry="2.99"/>
</g>
</g>
<g clip-path="url(#cd)">
<g fill="#6d6e71" filter="url(#goo2)">
<ellipse cx="1254.78" cy="23.23" rx="8.26" ry="4.43"/>
<ellipse cx="1167.4" cy="36.63" rx="7.06" ry="3.47"/>
<ellipse cx="1288.3" cy="51.95" rx="11.37" ry="5.39"/>
<ellipse cx="1190.14" cy="83.8" rx="25.74" ry="8.98"/>
<ellipse cx="1175.77" cy="95.77" rx="17.36" ry="10.18"/>
<ellipse cx="1170.99" cy="80.2" rx="7.78" ry="6.59"/>
<ellipse cx="1204.5" cy="84.99" rx="12.57" ry="7.78"/>
<ellipse cx="1154.95" cy="107.74" rx="10.66" ry="5.87"/>
<ellipse cx="1253.58" cy="105.34" rx="8.26" ry="4.67"/>
<ellipse cx="1193.01" cy="124.73" rx="9.22" ry="4.91"/>
<ellipse cx="1140.34" cy="161.12" rx="8.5" ry="4.67"/>
<ellipse cx="1384.06" cy="146.76" rx="8.98" ry="4.43"/>
<ellipse cx="1338.09" cy="164.48" rx="11.37" ry="5.87"/>
<ellipse cx="1282.31" cy="227.92" rx="10.89" ry="6.11"/>
<ellipse cx="1281.59" cy="246.59" rx="13.77" ry="6.59"/>
<ellipse cx="1307.45" cy="243.48" rx="14.96" ry="6.59"/>
<ellipse cx="1324.21" cy="241.8" rx="16.16" ry="8.26"/>
<ellipse cx="1285.9" cy="259.76" rx="10.89" ry="5.87"/>
<ellipse cx="1165" cy="277.71" rx="10.89" ry="5.87"/>
<ellipse cx="1252.38" cy="285.61" rx="10.89" ry="5.87"/>
<ellipse cx="1249.51" cy="316.76" rx="10.66" ry="5.39"/>
<ellipse cx="1244.01" cy="334.72" rx="11.37" ry="5.87"/>
<ellipse cx="1223.66" cy="345.01" rx="10.66" ry="5.39"/>
<ellipse cx="1247.6" cy="345.01" rx="11.37" ry="5.87"/>
<ellipse cx="1114.01" cy="364.16" rx="7.78" ry="4.19"/>
<ellipse cx="1345.75" cy="340.7" rx="10.89" ry="5.87"/>
<ellipse cx="1349.34" cy="353.39" rx="11.85" ry="5.87"/>
<ellipse cx="1375.68" cy="355.07" rx="12.09" ry="6.59"/>
<ellipse cx="1429.55" cy="354.35" rx="10.66" ry="4.91"/>
<ellipse cx="1429.55" cy="367.04" rx="9.7" ry="4.91"/>
<ellipse cx="1378.07" cy="363.45" rx="12.57" ry="7.78"/>
<ellipse cx="1396.03" cy="371.82" rx="16.16" ry="6.59"/>
<ellipse cx="1364.91" cy="373.02" rx="24.54" ry="8.98"/>
<ellipse cx="1345.75" cy="382.6" rx="12.57" ry="5.87"/>
<ellipse cx="1312.24" cy="373.02" rx="13.77" ry="5.39"/>
<ellipse cx="1293.08" cy="373.02" rx="11.37" ry="5.87"/>
<ellipse cx="1285.9" cy="384.99" rx="23.34" ry="8.98"/>
<ellipse cx="1239.22" cy="370.63" rx="16.16" ry="6.59"/>
<ellipse cx="1208.81" cy="379.01" rx="14.49" ry="8.26"/>
<ellipse cx="1228.44" cy="392.17" rx="26.93" ry="8.26"/>
<ellipse cx="1218.87" cy="401.75" rx="14.96" ry="8.98"/>
<ellipse cx="1226.05" cy="407.74" rx="12.57" ry="7.78"/>
<ellipse cx="1120.71" cy="400.55" rx="12.57" ry="5.39"/>
<ellipse cx="1180.56" cy="403.67" rx="14.49" ry="5.87"/>
<ellipse cx="1155.42" cy="411.33" rx="11.37" ry="7.3"/>
<ellipse cx="1190.14" cy="420.9" rx="23.34" ry="13.77"/>
<ellipse cx="1194.93" cy="430.48" rx="14.96" ry="7.78"/>
<ellipse cx="1221.26" cy="417.31" rx="12.57" ry="5.87"/>
<ellipse cx="1288.3" cy="412.52" rx="12.09" ry="5.87"/>
<ellipse cx="1367.3" cy="405.58" rx="11.37" ry="4.91"/>
<ellipse cx="1299.07" cy="426.89" rx="11.37" ry="5.39"/>
<ellipse cx="1260.76" cy="423.3" rx="17.36" ry="7.3"/>
<ellipse cx="1240.41" cy="430.48" rx="12.57" ry="5.87"/>
<ellipse cx="1263.16" cy="438.86" rx="17.36" ry="8.98"/>
<ellipse cx="1150.64" cy="439.58" rx="11.37" ry="5.87"/>
<ellipse cx="1295.48" cy="444.36" rx="18.56" ry="7.78"/>
<ellipse cx="1192.05" cy="447.72" rx="10.66" ry="6.59"/>
<ellipse cx="1261.96" cy="454.42" rx="29.33" ry="11.37"/>
<ellipse cx="1285.9" cy="456.81" rx="14.96" ry="7.78"/>
<ellipse cx="1127.89" cy="455.14" rx="11.37" ry="5.87"/>
<ellipse cx="1188.22" cy="460.41" rx="12.09" ry="6.59"/>
<ellipse cx="1247.6" cy="466.39" rx="17.36" ry="8.98"/>
<ellipse cx="1317.02" cy="467.59" rx="12.09" ry="6.59"/>
<ellipse cx="1353.41" cy="466.39" rx="12.09" ry="5.87"/>
<ellipse cx="1176.97" cy="473.09" rx="16.16" ry="7.78"/>
<ellipse cx="1197.32" cy="477.16" rx="17.36" ry="7.3"/>
<ellipse cx="1223.66" cy="472.38" rx="17.36" ry="7.3"/>
<ellipse cx="1273.93" cy="472.38" rx="11.37" ry="5.87"/>
<ellipse cx="1335.7" cy="479.56" rx="10.89" ry="5.39"/>
<ellipse cx="1363.71" cy="479.08" rx="11.61" ry="5.87"/>
<ellipse cx="1283.99" cy="489.13" rx="10.66" ry="5.39"/>
<ellipse cx="1257.17" cy="501.1" rx="10.66" ry="5.87"/>
<ellipse cx="1333.78" cy="501.82" rx="11.37" ry="6.11"/>
<ellipse cx="1179.37" cy="509" rx="9.7" ry="4.91"/>
<ellipse cx="1130.29" cy="517.14" rx="10.89" ry="5.87"/>
<ellipse cx="1252.38" cy="515.47" rx="16.16" ry="7.78"/>
<ellipse cx="1276.33" cy="517.86" rx="12.09" ry="5.87"/>
<ellipse cx="1204.02" cy="523.85" rx="11.61" ry="5.87"/>
<ellipse cx="1258.37" cy="530.31" rx="10.89" ry="5.87"/>
<ellipse cx="1146.57" cy="537.02" rx="10.18" ry="5.39"/>
<ellipse cx="1211.69" cy="547.07" rx="10.89" ry="5.87"/>
<ellipse cx="1202.59" cy="566.94" rx="12.57" ry="7.06"/>
<ellipse cx="1216.47" cy="575.32" rx="9.7" ry="5.87"/>
<ellipse cx="1168.59" cy="596.87" rx="10.66" ry="6.59"/>
<ellipse cx="1192.53" cy="596.87" rx="20.95" ry="8.98"/>
<ellipse cx="1227.96" cy="592.8" rx="12.09" ry="6.35"/>
<ellipse cx="1381.2" cy="671.1" rx="8.6" ry="5.1"/>
<ellipse cx="1216.28" cy="102.47" rx="7.66" ry="3.83"/>
</g>
<g fill="#1b9bd0" filter="url(#goo2)">
<ellipse cx="1256.98" cy="22.03" rx="7.96" ry="4.13"/>
<ellipse cx="1169.6" cy="35.43" rx="6.76" ry="3.17"/>
<ellipse cx="1290.5" cy="50.75" rx="11.07" ry="5.09"/>
<ellipse cx="1192.34" cy="82.6" rx="25.44" ry="8.68"/>
<ellipse cx="1177.97" cy="94.57" rx="17.06" ry="9.88"/>
<ellipse cx="1173.19" cy="79" rx="7.48" ry="6.29"/>
<ellipse cx="1206.7" cy="83.79" rx="12.27" ry="7.48"/>
<ellipse cx="1157.15" cy="106.54" rx="10.36" ry="5.57"/>
<ellipse cx="1255.78" cy="104.14" rx="7.96" ry="4.37"/>
<ellipse cx="1195.21" cy="123.53" rx="8.92" ry="4.61"/>
<ellipse cx="1142.54" cy="159.92" rx="8.2" ry="4.37"/>
<ellipse cx="1386.26" cy="145.56" rx="8.68" ry="4.13"/>
<ellipse cx="1340.29" cy="163.28" rx="11.07" ry="5.57"/>
<ellipse cx="1284.51" cy="226.72" rx="10.59" ry="5.81"/>
<ellipse cx="1283.79" cy="245.39" rx="13.47" ry="6.29"/>
<ellipse cx="1309.65" cy="242.28" rx="14.66" ry="6.29"/>
<ellipse cx="1326.41" cy="240.6" rx="15.86" ry="7.96"/>
<ellipse cx="1288.1" cy="258.56" rx="10.59" ry="5.57"/>
<ellipse cx="1167.2" cy="276.51" rx="10.59" ry="5.57"/>
<ellipse cx="1254.58" cy="284.41" rx="10.59" ry="5.57"/>
<ellipse cx="1251.71" cy="315.56" rx="10.36" ry="5.09"/>
<ellipse cx="1246.21" cy="333.52" rx="11.07" ry="5.57"/>
<ellipse cx="1225.86" cy="343.81" rx="10.36" ry="5.09"/>
<ellipse cx="1249.8" cy="343.81" rx="11.07" ry="5.57"/>
<ellipse cx="1116.21" cy="362.96" rx="7.48" ry="3.89"/>
<ellipse cx="1347.95" cy="339.5" rx="10.59" ry="5.57"/>
<ellipse cx="1351.54" cy="352.19" rx="11.55" ry="5.57"/>
<ellipse cx="1377.88" cy="353.87" rx="11.79" ry="6.29"/>
<ellipse cx="1431.75" cy="353.15" rx="10.36" ry="4.61"/>
<ellipse cx="1431.75" cy="365.84" rx="9.4" ry="4.61"/>
<ellipse cx="1380.27" cy="362.25" rx="12.27" ry="7.48"/>
<ellipse cx="1398.23" cy="370.62" rx="15.86" ry="6.29"/>
<ellipse cx="1367.11" cy="371.82" rx="24.24" ry="8.68"/>
<ellipse cx="1347.95" cy="381.4" rx="12.27" ry="5.57"/>
<ellipse cx="1314.44" cy="371.82" rx="13.47" ry="5.09"/>
<ellipse cx="1295.28" cy="371.82" rx="11.07" ry="5.57"/>
<ellipse cx="1288.1" cy="383.79" rx="23.04" ry="8.68"/>
<ellipse cx="1241.42" cy="369.43" rx="15.86" ry="6.29"/>
<ellipse cx="1211.01" cy="377.81" rx="14.19" ry="7.96"/>
<ellipse cx="1230.64" cy="390.97" rx="26.63" ry="7.96"/>
<ellipse cx="1221.07" cy="400.55" rx="14.66" ry="8.68"/>
<ellipse cx="1228.25" cy="406.54" rx="12.27" ry="7.48"/>
<ellipse cx="1122.91" cy="399.35" rx="12.27" ry="5.09"/>
<ellipse cx="1182.76" cy="402.47" rx="14.19" ry="5.57"/>
<ellipse cx="1157.62" cy="410.13" rx="11.07" ry="7"/>
<ellipse cx="1192.34" cy="419.7" rx="23.04" ry="13.47"/>
<ellipse cx="1197.13" cy="429.28" rx="14.66" ry="7.48"/>
<ellipse cx="1223.46" cy="416.11" rx="12.27" ry="5.57"/>
<ellipse cx="1290.5" cy="411.32" rx="11.79" ry="5.57"/>
<ellipse cx="1369.5" cy="404.38" rx="11.07" ry="4.61"/>
<ellipse cx="1301.27" cy="425.69" rx="11.07" ry="5.09"/>
<ellipse cx="1262.96" cy="422.1" rx="17.06" ry="7"/>
<ellipse cx="1242.61" cy="429.28" rx="12.27" ry="5.57"/>
<ellipse cx="1265.36" cy="437.66" rx="17.06" ry="8.68"/>
<ellipse cx="1152.84" cy="438.38" rx="11.07" ry="5.57"/>
<ellipse cx="1297.68" cy="443.16" rx="18.26" ry="7.48"/>
<ellipse cx="1194.25" cy="446.52" rx="10.36" ry="6.29"/>
<ellipse cx="1264.16" cy="453.22" rx="29.03" ry="11.07"/>
<ellipse cx="1288.1" cy="455.61" rx="14.66" ry="7.48"/>
<ellipse cx="1130.09" cy="453.94" rx="11.07" ry="5.57"/>
<ellipse cx="1190.42" cy="459.21" rx="11.79" ry="6.29"/>
<ellipse cx="1249.8" cy="465.19" rx="17.06" ry="8.68"/>
<ellipse cx="1319.22" cy="466.39" rx="11.79" ry="6.29"/>
<ellipse cx="1355.61" cy="465.19" rx="11.79" ry="5.57"/>
<ellipse cx="1179.17" cy="471.89" rx="15.86" ry="7.48"/>
<ellipse cx="1199.52" cy="475.96" rx="17.06" ry="7"/>
<ellipse cx="1225.86" cy="471.18" rx="17.06" ry="7"/>
<ellipse cx="1276.13" cy="471.18" rx="11.07" ry="5.57"/>
<ellipse cx="1337.9" cy="478.36" rx="10.59" ry="5.09"/>
<ellipse cx="1365.91" cy="477.88" rx="11.31" ry="5.57"/>
<ellipse cx="1286.19" cy="487.93" rx="10.36" ry="5.09"/>
<ellipse cx="1259.37" cy="499.9" rx="10.36" ry="5.57"/>
<ellipse cx="1335.98" cy="500.62" rx="11.07" ry="5.81"/>
<ellipse cx="1181.57" cy="507.8" rx="9.4" ry="4.61"/>
<ellipse cx="1132.49" cy="515.94" rx="10.59" ry="5.57"/>
<ellipse cx="1254.58" cy="514.27" rx="15.86" ry="7.48"/>
<ellipse cx="1278.53" cy="516.66" rx="11.79" ry="5.57"/>
<ellipse cx="1206.22" cy="522.65" rx="11.31" ry="5.57"/>
<ellipse cx="1260.57" cy="529.11" rx="10.59" ry="5.57"/>
<ellipse cx="1148.77" cy="535.82" rx="9.88" ry="5.09"/>
<ellipse cx="1213.89" cy="545.87" rx="10.59" ry="5.57"/>
<ellipse cx="1204.79" cy="565.74" rx="12.27" ry="6.76"/>
<ellipse cx="1218.67" cy="574.12" rx="9.4" ry="5.57"/>
<ellipse cx="1170.79" cy="595.67" rx="10.36" ry="6.29"/>
<ellipse cx="1194.73" cy="595.67" rx="20.65" ry="8.68"/>
<ellipse cx="1230.16" cy="591.6" rx="11.79" ry="6.05"/>
<ellipse cx="1383.4" cy="669.9" rx="8.3" ry="4.8"/>
</g>
<g fill="#dcdcdc" stroke="#6d6e71" stroke-width="1.3">
<ellipse cx="1251.71" cy="272.2" rx="2.27" ry="1.55"/>
</g>
</g>
<g clip-path="url(#ce)">
<g fill="#0d74b0" filter="url(#goo2)">
<ellipse cx="197.43" cy="784.07" rx="11.11" ry="4.53"/>
<ellipse cx="103.23" cy="796.12" rx="10.83" ry="4.53"/>
<ellipse cx="236.04" cy="812.82" rx="11.93" ry="4.81"/>
<ellipse cx="110.62" cy="841.03" rx="12.2" ry="4.53"/>
<ellipse cx="128.7" cy="848.15" rx="22.61" ry="6.72" transform="rotate(-8 128.7 848.15)"/>
<ellipse cx="145.13" cy="844.04" rx="12.2" ry="5.08"/>
<ellipse cx="123.22" cy="853.62" rx="19.87" ry="4.81"/>
<ellipse cx="105.42" cy="854.99" rx="11.11" ry="4.53"/>
<ellipse cx="111.72" cy="861.29" rx="11.11" ry="4.53"/>
<ellipse cx="89.81" cy="867.59" rx="11.65" ry="4.81"/>
<ellipse cx="147.04" cy="862.93" rx="8.91" ry="3.71"/>
<ellipse cx="196.33" cy="866.49" rx="10.83" ry="4.53"/>
<ellipse cx="131.43" cy="884.84" rx="11.11" ry="4.53"/>
<ellipse cx="72.29" cy="920.98" rx="11.65" ry="4.53"/>
<ellipse cx="335.43" cy="907.29" rx="11.11" ry="4.53"/>
<ellipse cx="295.45" cy="922.9" rx="11.65" ry="4.81"/>
<ellipse cx="232.2" cy="985.88" rx="11.65" ry="4.81"/>
<ellipse cx="229.46" cy="1004.23" rx="14.39" ry="5.35"/>
<ellipse cx="254.65" cy="1002.04" rx="11.65" ry="4.53"/>
<ellipse cx="276.56" cy="998.75" rx="11.65" ry="5.35"/>
<ellipse cx="276.56" cy="1004.77" rx="11.11" ry="4.81"/>
<ellipse cx="236.31" cy="1017.37" rx="11.65" ry="4.53"/>
<ellipse cx="101.31" cy="1037.63" rx="11.38" ry="4.81"/>
<ellipse cx="190.31" cy="1033.52" rx="8.91" ry="3.99"/>
<ellipse cx="198.8" cy="1043.66" rx="11.65" ry="4.81"/>
<ellipse cx="194.96" cy="1075.97" rx="11.65" ry="4.81"/>
<ellipse cx="189.76" cy="1092.74" rx="11.11" ry="3.99"/>
<ellipse cx="163.75" cy="1104.79" rx="10.83" ry="4.53"/>
<ellipse cx="193.87" cy="1102.6" rx="11.65" ry="4.53"/>
<ellipse cx="297.92" cy="1101.23" rx="11.65" ry="4.53"/>
<ellipse cx="41.35" cy="1124.78" rx="10.28" ry="4.53"/>
<ellipse cx="304.49" cy="1113.27" rx="11.65" ry="4.81"/>
<ellipse cx="329.96" cy="1114.1" rx="13.02" ry="4.53"/>
<ellipse cx="338.99" cy="1120.67" rx="11.65" ry="4.53"/>
<ellipse cx="392.11" cy="1114.37" rx="12.2" ry="4.53"/>
<ellipse cx="391.57" cy="1125.6" rx="12.2" ry="4.81"/>
<ellipse cx="267.8" cy="1132.17" rx="12.2" ry="4.53"/>
<ellipse cx="309.42" cy="1133.81" rx="16.58" ry="5.08"/>
<ellipse cx="345.02" cy="1130.53" rx="26.71" ry="5.08"/>
<ellipse cx="327.22" cy="1139.29" rx="11.65" ry="4.53"/>
<ellipse cx="296.55" cy="1144.22" rx="11.11" ry="4.53"/>
<ellipse cx="182.09" cy="1130.25" rx="16.58" ry="5.35" transform="rotate(-6 182.09 1130.25)"/>
<ellipse cx="148.69" cy="1136.55" rx="11.11" ry="5.08"/>
<ellipse cx="148.69" cy="1141.48" rx="10.56" ry="4.53"/>
<ellipse cx="231.38" cy="1136" rx="12.2" ry="4.53"/>
<ellipse cx="234.12" cy="1146.13" rx="22.06" ry="5.63"/>
<ellipse cx="223.17" cy="1147.5" rx="11.11" ry="4.53"/>
<ellipse cx="173.88" cy="1151.61" rx="26.71" ry="5.35"/>
<ellipse cx="52.03" cy="1160.1" rx="11.65" ry="4.81"/>
<ellipse cx="149.23" cy="1160.37" rx="11.11" ry="4.81"/>
<ellipse cx="114.46" cy="1164.21" rx="11.11" ry="4.81"/>
<ellipse cx="167.58" cy="1166.4" rx="11.11" ry="4.81"/>
<ellipse cx="88.44" cy="1170.5" rx="11.11" ry="4.53"/>
<ellipse cx="89.27" cy="1176.53" rx="8.37" ry="3.99"/>
<ellipse cx="234.67" cy="1172.15" rx="11.11" ry="4.53"/>
<ellipse cx="321.19" cy="1167.49" rx="11.65" ry="4.81"/>
<ellipse cx="134.17" cy="1173.52" rx="13.02" ry="4.81"/>
<ellipse cx="156.08" cy="1176.25" rx="13.02" ry="4.81"/>
<ellipse cx="117.74" cy="1178.99" rx="13.02" ry="6.18"/>
<ellipse cx="125.96" cy="1184.47" rx="21.24" ry="8.37"/>
<ellipse cx="135.54" cy="1189.12" rx="13.02" ry="5.63"/>
<ellipse cx="207.28" cy="1183.1" rx="18.5" ry="4.81"/>
<ellipse cx="181.27" cy="1190.49" rx="11.11" ry="4.53"/>
<ellipse cx="244.52" cy="1189.67" rx="11.11" ry="4.53"/>
<ellipse cx="84.34" cy="1198.71" rx="11.11" ry="4.81"/>
<ellipse cx="211.39" cy="1197.34" rx="14.39" ry="5.63"/>
<ellipse cx="130.61" cy="1207.2" rx="11.11" ry="4.53"/>
<ellipse cx="199.34" cy="1205.83" rx="11.65" ry="4.81"/>
<ellipse cx="246.44" cy="1204.18" rx="16.58" ry="4.81"/>
<ellipse cx="232.75" cy="1208.29" rx="13.02" ry="4.81"/>
<ellipse cx="59.69" cy="1215.14" rx="11.11" ry="4.81"/>
<ellipse cx="191.68" cy="1214.59" rx="13.02" ry="4.81"/>
<ellipse cx="216.32" cy="1213.77" rx="17.13" ry="6.18"/>
<ellipse cx="238.23" cy="1218.7" rx="12.2" ry="4.81"/>
<ellipse cx="128.7" cy="1219.24" rx="12.2" ry="4.81"/>
<ellipse cx="109.53" cy="1221.16" rx="6.72" ry="2.89"/>
<ellipse cx="202.63" cy="1221.98" rx="11.11" ry="4.81"/>
<ellipse cx="180.72" cy="1226.91" rx="21.24" ry="7.55"/>
<ellipse cx="157.45" cy="1231.02" rx="15.76" ry="5.63"/>
<ellipse cx="112.27" cy="1233.21" rx="14.94" ry="5.63"/>
<ellipse cx="136.91" cy="1235.13" rx="13.02" ry="6.18"/>
<ellipse cx="266.98" cy="1229.1" rx="11.11" ry="4.81"/>
<ellipse cx="308.05" cy="1223.9" rx="11.65" ry="4.53"/>
<ellipse cx="218.24" cy="1234.3" rx="10.83" ry="4.81"/>
<ellipse cx="287.51" cy="1237.86" rx="11.65" ry="4.53"/>
<ellipse cx="320.92" cy="1236.5" rx="12.2" ry="4.53"/>
<ellipse cx="231.93" cy="1249.09" rx="10.56" ry="4.81"/>
<ellipse cx="98.58" cy="1260.87" rx="9.46" ry="3.71"/>
<ellipse cx="104.6" cy="1263.33" rx="8.37" ry="3.44"/>
<ellipse cx="201.26" cy="1262.23" rx="10.83" ry="4.81"/>
<ellipse cx="285.87" cy="1262.78" rx="10.83" ry="4.81"/>
<ellipse cx="62.16" cy="1276.75" rx="11.11" ry="4.81"/>
<ellipse cx="197.15" cy="1274.01" rx="15.76" ry="6.72"/>
<ellipse cx="222.62" cy="1278.12" rx="11.65" ry="4.53"/>
<ellipse cx="146.5" cy="1281.68" rx="12.2" ry="4.81"/>
<ellipse cx="204.82" cy="1289.89" rx="11.11" ry="4.81"/>
<ellipse cx="82.42" cy="1295.91" rx="10.56" ry="4.53"/>
<ellipse cx="151.7" cy="1307.42" rx="11.11" ry="4.53"/>
<ellipse cx="141.02" cy="1325.49" rx="10.56" ry="4.81"/>
<ellipse cx="139.65" cy="1330.96" rx="10.01" ry="4.26"/>
<ellipse cx="158.82" cy="1334.52" rx="11.11" ry="4.81"/>
<ellipse cx="104.05" cy="1356.16" rx="11.11" ry="4.81"/>
<ellipse cx="138.28" cy="1355.06" rx="14.39" ry="5.63"/>
<ellipse cx="123.22" cy="1361.91" rx="10.28" ry="4.81"/>
<ellipse cx="172.23" cy="1352.6" rx="11.11" ry="4.81"/>
<ellipse cx="343" cy="1431" rx="10" ry="4.7"/>
</g>
</g>
<g clip-path="url(#cf)">
<g fill="#085c9e" filter="url(#goo2)">
<ellipse cx="602.66" cy="788.18" rx="7.72" ry="5.25"/>
<ellipse cx="506.28" cy="800.23" rx="6.62" ry="3.89"/>
<ellipse cx="642.64" cy="817.2" rx="9.64" ry="6.08"/>
<ellipse cx="513.95" cy="845.96" rx="9.64" ry="6.62"/>
<ellipse cx="539.96" cy="850.34" rx="19.77" ry="8.27"/>
<ellipse cx="511.21" cy="860.47" rx="11.01" ry="8.27"/>
<ellipse cx="537.22" cy="857.73" rx="12.92" ry="6.62"/>
<ellipse cx="493.41" cy="871.42" rx="8.27" ry="5.53"/>
<ellipse cx="602.39" cy="870.33" rx="7.45" ry="4.98"/>
<ellipse cx="535.85" cy="888.95" rx="7.45" ry="5.25"/>
<ellipse cx="475.06" cy="924.54" rx="7.72" ry="4.98"/>
<ellipse cx="743.96" cy="911.13" rx="9.64" ry="5.8"/>
<ellipse cx="705.62" cy="926.46" rx="9.91" ry="6.35"/>
<ellipse cx="640.73" cy="989.71" rx="9.64" ry="6.08"/>
<ellipse cx="637.99" cy="1008.33" rx="11.55" ry="6.08"/>
<ellipse cx="663.18" cy="1006.42" rx="10.18" ry="6.08"/>
<ellipse cx="684.54" cy="1005.05" rx="11.01" ry="9.64"/>
<ellipse cx="644.56" cy="1020.65" rx="9.64" ry="6.08"/>
<ellipse cx="505.18" cy="1041.74" rx="8.81" ry="6.08"/>
<ellipse cx="605.68" cy="1046.94" rx="9.09" ry="6.08"/>
<ellipse cx="601.57" cy="1079.53" rx="9.09" ry="6.08"/>
<ellipse cx="596.91" cy="1095.48" rx="8.81" ry="6.08"/>
<ellipse cx="601.57" cy="1105.06" rx="9.36" ry="6.08"/>
<ellipse cx="568.16" cy="1109.17" rx="8.54" ry="5.53"/>
<ellipse cx="704.8" cy="1104.79" rx="9.36" ry="6.08"/>
<ellipse cx="443.3" cy="1128.61" rx="5.53" ry="4.16"/>
<ellipse cx="714.38" cy="1116.83" rx="10.18" ry="6.62"/>
<ellipse cx="741.77" cy="1117.93" rx="10.46" ry="6.62"/>
<ellipse cx="750.8" cy="1125.6" rx="8.81" ry="7.45"/>
<ellipse cx="805.02" cy="1117.66" rx="8.27" ry="5.25"/>
<ellipse cx="804.74" cy="1129.7" rx="8.54" ry="5.53"/>
<ellipse cx="677.42" cy="1135.18" rx="9.64" ry="6.35"/>
<ellipse cx="767.23" cy="1134.36" rx="14.29" ry="6.08"/>
<ellipse cx="742.59" cy="1132.44" rx="17.03" ry="6.62"/>
<ellipse cx="720.68" cy="1137.92" rx="15.66" ry="7.45"/>
<ellipse cx="737.11" cy="1143.4" rx="10.18" ry="5.53"/>
<ellipse cx="705.07" cy="1148.05" rx="9.64" ry="6.62"/>
<ellipse cx="587.33" cy="1134.09" rx="14.29" ry="7.45"/>
<ellipse cx="554.47" cy="1142.57" rx="11.01" ry="8.81"/>
<ellipse cx="641.82" cy="1139.84" rx="9.64" ry="7.45"/>
<ellipse cx="633.06" cy="1150.24" rx="11.01" ry="7.17"/>
<ellipse cx="650.86" cy="1148.87" rx="11.01" ry="6.62"/>
<ellipse cx="589.25" cy="1155.72" rx="17.03" ry="6.62"/>
<ellipse cx="564.6" cy="1155.17" rx="10.18" ry="6.08"/>
<ellipse cx="554.2" cy="1163.38" rx="9.36" ry="6.08"/>
<ellipse cx="455.07" cy="1163.66" rx="8.27" ry="5.53"/>
<ellipse cx="518.05" cy="1168.31" rx="8.81" ry="5.8"/>
<ellipse cx="573.36" cy="1170.5" rx="9.09" ry="5.8"/>
<ellipse cx="492.59" cy="1175.16" rx="9.36" ry="7.45"/>
<ellipse cx="563.23" cy="1179.54" rx="9.36" ry="6.62"/>
<ellipse cx="641" cy="1176.53" rx="9.36" ry="6.35"/>
<ellipse cx="731.63" cy="1171.05" rx="9.36" ry="6.08"/>
<ellipse cx="538.59" cy="1178.99" rx="12.92" ry="7.45"/>
<ellipse cx="522.16" cy="1185.29" rx="14.29" ry="8.81"/>
<ellipse cx="534.48" cy="1191.31" rx="17.03" ry="8.81"/>
<ellipse cx="542.7" cy="1185.84" rx="8.81" ry="8.81"/>
<ellipse cx="615.26" cy="1186.11" rx="16.48" ry="6.62"/>
<ellipse cx="587.06" cy="1194.33" rx="8.27" ry="5.53"/>
<ellipse cx="652.23" cy="1192.41" rx="8.54" ry="5.8"/>
<ellipse cx="487.93" cy="1202.27" rx="8.54" ry="6.08"/>
<ellipse cx="618.82" cy="1200.9" rx="12.37" ry="7.45"/>
<ellipse cx="535.3" cy="1209.93" rx="8.81" ry="6.08"/>
<ellipse cx="652.23" cy="1208.29" rx="17.03" ry="7.45"/>
<ellipse cx="605.68" cy="1210.48" rx="11.55" ry="7.45"/>
<ellipse cx="462.19" cy="1218.97" rx="8.54" ry="5.53"/>
<ellipse cx="630.32" cy="1215.96" rx="14.29" ry="7.45"/>
<ellipse cx="533.93" cy="1223.08" rx="8.54" ry="5.8"/>
<ellipse cx="602.94" cy="1220.07" rx="14.29" ry="8.81"/>
<ellipse cx="646.75" cy="1222.8" rx="10.18" ry="6.08"/>
<ellipse cx="589.25" cy="1228.28" rx="14.29" ry="8.27"/>
<ellipse cx="570.08" cy="1233.21" rx="15.66" ry="6.62"/>
<ellipse cx="515.31" cy="1235.95" rx="12.1" ry="7.45"/>
<ellipse cx="539.96" cy="1238.41" rx="12.92" ry="7.45"/>
<ellipse cx="553.65" cy="1234.58" rx="11.55" ry="6.08"/>
<ellipse cx="675.5" cy="1232.94" rx="9.91" ry="6.62"/>
<ellipse cx="717.4" cy="1226.91" rx="9.91" ry="6.35"/>
<ellipse cx="625.39" cy="1237.86" rx="8.81" ry="6.08"/>
<ellipse cx="694.12" cy="1240.88" rx="9.09" ry="6.08"/>
<ellipse cx="730.81" cy="1239.51" rx="10.18" ry="6.35"/>
<ellipse cx="639.36" cy="1253.2" rx="8.81" ry="6.08"/>
<ellipse cx="509.56" cy="1266.34" rx="6.08" ry="3.89"/>
<ellipse cx="607.04" cy="1265.79" rx="8.81" ry="6.62"/>
<ellipse cx="694.67" cy="1266.62" rx="9.36" ry="6.62"/>
<ellipse cx="464.66" cy="1279.49" rx="8.81" ry="6.08"/>
<ellipse cx="604.31" cy="1277.57" rx="14.29" ry="7.99"/>
<ellipse cx="628.4" cy="1281.68" rx="9.91" ry="6.35"/>
<ellipse cx="552.55" cy="1284.69" rx="9.64" ry="6.08"/>
<ellipse cx="611.7" cy="1293.18" rx="9.09" ry="6.08"/>
<ellipse cx="486.56" cy="1299.47" rx="7.99" ry="5.25"/>
<ellipse cx="556.66" cy="1310.43" rx="8.81" ry="6.08"/>
<ellipse cx="545.71" cy="1331.24" rx="10.18" ry="8.81"/>
<ellipse cx="564.88" cy="1337.54" rx="8.81" ry="5.8"/>
<ellipse cx="507.92" cy="1359.17" rx="9.09" ry="6.08"/>
<ellipse cx="541.33" cy="1357.8" rx="14.84" ry="7.45"/>
<ellipse cx="528.46" cy="1365.19" rx="8.81" ry="6.08"/>
<ellipse cx="578.29" cy="1355.61" rx="9.36" ry="6.35"/>
<ellipse cx="753.8" cy="1434.2" rx="6.6" ry="5.1"/>
</g>
</g>
<path fill="#4bb0da" d="M977.8 860.9V817H981.85V818.5H985.91V827.5H989.96V835H994.02V836H998.07V855.5H1002.12V836H1006.18V854H1010.23V833.5H1014.29V837.5H1018.34V833.5H1022.39V849H1026.45V831H1030.5V825H1034.56V839H1038.61V853H1042.66V854H1046.72V844H1050.77V854H1054.83V825.5H1058.88V850H1062.93V856.5H1066.99V858H1071.04V853H1075.1V858.5H1079.15V852.5H1083.2V837.5H1087.26V849.5H1091.31V845H1095.37V839.5H1099.42V812H1103.47V819H1107.53V829.5H1111.58V829.5H1115.64V856H1119.69V851.5H1123.74V846H1127.8V855.5H1131.85V852.5H1135.91V853.5H1139.96V829.5H1144.01V849.5H1148.07V838H1152.12V839.5H1156.18V829.5H1160.23V849H1164.28V843.5H1168.34V769H1172.39V806.5H1176.45V816.5H1180.5V860.9ZM1184.55 860.9V857.5H1188.61V821H1192.66V847H1196.72V849H1200.77V845.5H1204.82V860.9ZM1208.88 860.9V852.5H1212.93V851.5H1216.99V840.5H1221.04V860.9ZM1225.09 860.9V856.5H1229.15V852.5H1233.2V827.5H1237.26V858.5H1241.31V857.5H1245.36V828H1249.42V841.5H1253.47V833.5H1257.53V834.5H1261.58V843.5H1265.63V856H1269.69V856H1273.74V850.5H1277.8V849.5H1281.85V839.5H1285.9V840.5H1289.96V833H1294.01V836.5H1298.07V835H1302.12V845.5H1306.17V843H1310.23V850.5H1314.28V858H1318.34V858.5H1322.39V843H1326.44V841H1330.5V839.5H1334.55V845.5H1338.61V833.5H1342.66V858.5H1346.71V852.5H1350.77V856.5H1354.82V853.5H1358.88V842.5H1362.93V832H1366.98V831.5H1371.04V853.5H1375.09V851.5H1379.15V860.9ZM1383.2 860.9V856.5H1387.25V828H1391.31V848.5H1395.36V825.5H1399.42V857.5H1403.47V859.5H1407.52V860.9ZM1411.58 860.9V854.5H1415.63V837H1419.69V860.9ZM1423.74 860.9V841H1427.79V805H1431.85V827H1435.9V825H1439.96V834H1444.01V860.9ZM1448.06 860.9V834H1452.12V816.5H1456.17V860.9ZM1460.23 860.9V812.5H1464.28V842.5H1468.33V844H1472.39V806H1476.44V854.5H1480.5V856H1484.55V821.5H1488.6V860.9ZM1492.66 860.9V830H1496.71V830H1500.77V854H1504.82V844.5H1508.87V845.5H1512.93V860.9ZM1516.98 860.9V825.5H1521.04V848H1525.09V840H1529.14V860.9ZM1533.2 860.9V844.5H1537.25V845.5H1541.31V860.9Z"/>
<line x1="971" y1="831.4" x2="1542" y2="831.4" stroke="#000" stroke-width="1.2" stroke-dasharray="12.2 11.6" stroke-dashoffset="6"/>
<path fill="#a7d5ea" d="M977.8 956.5V938.5H981.85V942.5H985.91V950.5H989.96V935.5H994.02V935.5H998.07V954.5H1002.12V946.5H1006.18V937.5H1010.23V953.5H1014.29V949H1018.34V940.5H1022.39V944H1026.45V946.5H1030.5V956.5ZM1034.56 956.5V923H1038.61V899.5H1042.66V953.5H1046.72V948.5H1050.77V956.5ZM1054.83 956.5V949.5H1058.88V956.5ZM1062.93 956.5V940.5H1066.99V934.5H1071.04V956.5ZM1075.1 956.5V945.5H1079.15V943H1083.2V956.5ZM1087.26 956.5V953.5H1091.31V951.5H1095.37V949.5H1099.42V946.5H1103.47V931.5H1107.53V956.5ZM1115.64 956.5V955.5H1119.69V952.5H1123.74V930.5H1127.8V949.5H1131.85V953.5H1135.91V956.5ZM1139.96 956.5V948.5H1144.01V956.5ZM1160.23 956.5V949.5H1164.28V932H1168.34V930.5H1172.39V949H1176.45V956.5ZM1180.5 956.5V952.5H1184.55V940H1188.61V947.5H1192.66V956.5ZM1196.72 956.5V951.5H1200.77V947.5H1204.82V956.5ZM1212.93 956.5V940.5H1216.99V956.5ZM1221.04 956.5V950H1225.09V949H1229.15V948.5H1233.2V948H1237.26V956.5ZM1241.31 956.5V954.5H1245.36V953.5H1249.42V949.5H1253.47V949.5H1257.53V949.5H1261.58V954.5H1265.63V954.5H1269.69V954.5H1273.74V954.5H1277.8V939H1281.85V956.5ZM1289.96 956.5V954H1294.01V955H1298.07V956.5ZM1302.12 956.5V946.5H1306.17V954.5H1310.23V954.5H1314.28V956.5ZM1318.34 956.5V951.5H1322.39V939.5H1326.44V956.5ZM1330.5 956.5V952.5H1334.55V956.5ZM1338.61 956.5V939H1342.66V945.5H1346.71V956.5ZM1350.77 956.5V941.5H1354.82V948.5H1358.88V949.5H1362.93V929.5H1366.98V956.5ZM1371.04 956.5V935.5H1375.09V932H1379.15V956.5ZM1383.2 956.5V948H1387.25V953.5H1391.31V935.5H1395.36V942.5H1399.42V943H1403.47V956.5ZM1411.58 956.5V951H1415.63V956.5ZM1419.69 956.5V922H1423.74V941.5H1427.79V951.5H1431.85V921H1435.9V956.5ZM1439.96 956.5V950H1444.01V956.5ZM1448.06 956.5V951.5H1452.12V896.5H1456.17V956.5ZM1460.23 956.5V950H1464.28V956.5ZM1468.33 956.5V954.5H1472.39V953.5H1476.44V947.5H1480.5V956.5ZM1484.55 956.5V951H1488.6V956.5ZM1492.66 956.5V950.5H1496.71V951.5H1500.77V956.5ZM1504.82 956.5V937.5H1508.87V944.5H1512.93V940H1516.98V953.5H1521.04V954H1525.09V954.5H1529.14V956.5ZM1533.2 956.5V953.5H1537.25V955.5H1541.31V956.5Z"/>
<line x1="971" y1="936.2" x2="1542" y2="936.2" stroke="#000" stroke-width="1.2" stroke-dasharray="12.2 11.6" stroke-dashoffset="6"/>
<path fill="#1397cb" d="M977.8 1052.7V1046.5H981.85V1043H985.91V1046.5H989.96V1042.5H994.02V1046H998.07V1044H1002.12V1044H1006.18V1046H1010.23V1050.5H1014.29V1052.7ZM1018.34 1052.7V1049.5H1022.39V1039H1026.45V1050.5H1030.5V1047.5H1034.56V1046.5H1038.61V1049.5H1042.66V1049.5H1046.72V1052.7ZM1050.77 1052.7V1045H1054.83V1049.5H1058.88V1043H1062.93V1047.5H1066.99V1048.5H1071.04V1046.5H1075.1V1048H1079.15V1050.5H1083.2V1048.5H1087.26V1049.5H1091.31V1051.5H1095.37V1050.5H1099.42V1046H1103.47V1045H1107.53V1048.5H1111.58V1049.5H1115.64V1048H1119.69V1048.5H1123.74V1037.5H1127.8V1052.7ZM1131.85 1052.7V1049.5H1135.91V1039H1139.96V1049.5H1144.01V1046H1148.07V1052.7ZM1152.12 1052.7V1050H1156.18V1051.5H1160.23V1049.5H1164.28V1050.5H1168.34V1047.5H1172.39V1050.5H1176.45V1050H1180.5V1051.5H1184.55V1043.5H1188.61V1049.5H1192.66V1045.5H1196.72V1047.5H1200.77V1052.7ZM1204.82 1052.7V1049.5H1208.88V1049.5H1212.93V1052.7ZM1216.99 1052.7V1051.5H1221.04V1045.5H1225.09V1048.5H1229.15V1050.5H1233.2V1048.5H1237.26V1050.5H1241.31V1047.5H1245.36V1052.7ZM1249.42 1052.7V1048H1253.47V1045.5H1257.53V1046H1261.58V1045.5H1265.63V1046H1269.69V1046H1273.74V1046.5H1277.8V1049.5H1281.85V1049.5H1285.9V1050H1289.96V1052.7ZM1294.01 1052.7V1051.5H1298.07V1047.5H1302.12V1047.5H1306.17V1049.5H1310.23V1049.5H1314.28V1052.7ZM1318.34 1052.7V1045H1322.39V1045.5H1326.44V1046.5H1330.5V1047.5H1334.55V1046.5H1338.61V1046H1342.66V1042.5H1346.71V1048H1350.77V1050.5H1354.82V1046H1358.88V1048.5H1362.93V1042H1366.98V1046H1371.04V1051.5H1375.09V1052.7ZM1383.2 1052.7V1049.5H1387.25V1052.7ZM1391.31 1052.7V1051.5H1395.36V1052.7ZM1411.58 1052.7V1052H1415.63V1052.7ZM1423.74 1052.7V1049.5H1427.79V1047.5H1431.85V1045H1435.9V1046.5H1439.96V1048H1444.01V1051.5H1448.06V1049.5H1452.12V1049.5H1456.17V1052.7ZM1460.23 1052.7V1048.5H1464.28V1048H1468.33V1049.5H1472.39V1049.5H1476.44V1047.5H1480.5V1045H1484.55V1052.7ZM1492.66 1052.7V1050.5H1496.71V1050.5H1500.77V1051.5H1504.82V1046.5H1508.87V1047.5H1512.93V1049.5H1516.98V1047.5H1521.04V1046H1525.09V1049.5H1529.14V1052.7Z"/>
<line x1="971" y1="1047.3" x2="1542" y2="1047.3" stroke="#000" stroke-width="1.2" stroke-dasharray="12.2 11.6" stroke-dashoffset="6"/>
<path fill="#1397cb" d="M977.8 1150V1136H981.85V1112H985.91V1086.5H989.96V1135H994.02V1114.5H998.07V1119H1002.12V1129H1006.18V1148H1010.23V1143H1014.29V1150ZM1018.34 1150V1142.5H1022.39V1143H1026.45V1150ZM1030.5 1150V1139.5H1034.56V1142H1038.61V1135H1042.66V1150ZM1046.72 1150V1146H1050.77V1144H1054.83V1123.5H1058.88V1125.5H1062.93V1145.5H1066.99V1148H1071.04V1135.5H1075.1V1141.5H1079.15V1148H1083.2V1145.5H1087.26V1140H1091.31V1150ZM1095.37 1150V1131.5H1099.42V1144.5H1103.47V1144H1107.53V1148H1111.58V1143H1115.64V1142H1119.69V1136.5H1123.74V1121.5H1127.8V1131H1131.85V1143H1135.91V1135H1139.96V1140H1144.01V1150ZM1148.07 1150V1142H1152.12V1144.5H1156.18V1137H1160.23V1150ZM1168.34 1150V1121.5H1172.39V1125.5H1176.45V1143.5H1180.5V1150ZM1184.55 1150V1146.5H1188.61V1150ZM1192.66 1150V1148H1196.72V1150ZM1200.77 1150V1136.5H1204.82V1148.5H1208.88V1150ZM1212.93 1150V1144.5H1216.99V1141.5H1221.04V1150ZM1225.09 1150V1148.5H1229.15V1141.5H1233.2V1144.5H1237.26V1139.5H1241.31V1148.5H1245.36V1150ZM1249.42 1150V1142H1253.47V1142H1257.53V1142.5H1261.58V1143H1265.63V1146H1269.69V1148H1273.74V1148.5H1277.8V1146.5H1281.85V1150ZM1285.9 1150V1145H1289.96V1150ZM1294.01 1150V1142.5H1298.07V1150ZM1302.12 1150V1148.5H1306.17V1146H1310.23V1146.5H1314.28V1150ZM1318.34 1150V1146.5H1322.39V1147H1326.44V1149H1330.5V1150ZM1334.55 1150V1147.5H1338.61V1145.5H1342.66V1145H1346.71V1145H1350.77V1146H1354.82V1148H1358.88V1149H1362.93V1150ZM1366.98 1150V1139.5H1371.04V1150ZM1375.09 1150V1145H1379.15V1142.5H1383.2V1140H1387.25V1144.5H1391.31V1146H1395.36V1146.5H1399.42V1145H1403.47V1150ZM1411.58 1150V1148H1415.63V1147H1419.69V1150ZM1423.74 1150V1145H1427.79V1146H1431.85V1147.5H1435.9V1146H1439.96V1146.5H1444.01V1150ZM1452.12 1150V1143.5H1456.17V1150ZM1464.28 1150V1148.5H1468.33V1150ZM1476.44 1150V1135.5H1480.5V1136H1484.55V1150ZM1492.66 1150V1145H1496.71V1146.5H1500.77V1148H1504.82V1150ZM1508.87 1150V1147.5H1512.93V1147H1516.98V1150ZM1521.04 1150V1148H1525.09V1150ZM1533.2 1150V1140.5H1537.25V1138H1541.31V1150Z"/>
<line x1="971" y1="1140.9" x2="1542" y2="1140.9" stroke="#000" stroke-width="1.2" stroke-dasharray="12.2 11.6" stroke-dashoffset="6"/>
<path fill="#1397cb" d="M977.8 1247V1244H981.85V1226H985.91V1239H989.96V1220H994.02V1244H998.07V1225H1002.12V1197H1006.18V1231H1010.23V1229H1014.29V1242H1018.34V1237.5H1022.39V1242.5H1026.45V1243H1030.5V1238H1034.56V1237.5H1038.61V1241.5H1042.66V1237H1046.72V1242H1050.77V1238H1054.83V1243H1058.88V1237.5H1062.93V1236.5H1066.99V1238.5H1071.04V1240.5H1075.1V1243H1079.15V1247ZM1083.2 1247V1238.5H1087.26V1245H1091.31V1241H1095.37V1243.5H1099.42V1243.5H1103.47V1247ZM1107.53 1247V1243H1111.58V1237H1115.64V1242H1119.69V1245H1123.74V1247ZM1127.8 1247V1245H1131.85V1241H1135.91V1240.5H1139.96V1240H1144.01V1238H1148.07V1237.5H1152.12V1247ZM1156.18 1247V1244H1160.23V1241.5H1164.28V1247ZM1168.34 1247V1238.5H1172.39V1239.5H1176.45V1242H1180.5V1240H1184.55V1239.5H1188.61V1247ZM1192.66 1247V1240.5H1196.72V1239H1200.77V1239.5H1204.82V1243H1208.88V1244H1212.93V1238.5H1216.99V1238.5H1221.04V1242H1225.09V1241H1229.15V1238.5H1233.2V1244H1237.26V1247ZM1241.31 1247V1240.5H1245.36V1240H1249.42V1240.5H1253.47V1241.5H1257.53V1241.5H1261.58V1238.5H1265.63V1240H1269.69V1245H1273.74V1245H1277.8V1241H1281.85V1242.5H1285.9V1242.5H1289.96V1242.5H1294.01V1245H1298.07V1245H1302.12V1245H1306.17V1241H1310.23V1240H1314.28V1237H1318.34V1237H1322.39V1240H1326.44V1243H1330.5V1241.5H1334.55V1242H1338.61V1240H1342.66V1239.5H1346.71V1238.5H1350.77V1238.5H1354.82V1240H1358.88V1240.5H1362.93V1239H1366.98V1239.5H1371.04V1242H1375.09V1242H1379.15V1238H1383.2V1240H1387.25V1239.5H1391.31V1242.5H1395.36V1243H1399.42V1240H1403.47V1242H1407.52V1247ZM1411.58 1247V1243H1415.63V1247ZM1419.69 1247V1242.5H1423.74V1242H1427.79V1243.5H1431.85V1247ZM1435.9 1247V1245H1439.96V1244.5H1444.01V1247ZM1448.06 1247V1242H1452.12V1241.5H1456.17V1247ZM1464.28 1247V1242H1468.33V1240.5H1472.39V1241H1476.44V1239.5H1480.5V1241.5H1484.55V1240H1488.6V1247ZM1492.66 1247V1241.5H1496.71V1243H1500.77V1238.5H1504.82V1240H1508.87V1241.5H1512.93V1243H1516.98V1244H1521.04V1247ZM1533.2 1247V1241.5H1537.25V1240H1541.31V1247Z"/>
<line x1="971" y1="1239.1" x2="1542" y2="1239.1" stroke="#000" stroke-width="1.2" stroke-dasharray="12.2 11.6" stroke-dashoffset="6"/>
<path fill="#0e74b1" d="M977.8 1344V1332H981.85V1333.5H985.91V1332.5H989.96V1340.5H994.02V1334.5H998.07V1338.5H1002.12V1344ZM1006.18 1344V1332.5H1010.23V1342.5H1014.29V1343H1018.34V1344ZM1026.45 1344V1341.5H1030.5V1342H1034.56V1341.5H1038.61V1344ZM1046.72 1344V1342.5H1050.77V1344ZM1062.93 1344V1337.5H1066.99V1342.5H1071.04V1344ZM1075.1 1344V1340.5H1079.15V1342H1083.2V1344ZM1103.47 1344V1339H1107.53V1338.5H1111.58V1344ZM1123.74 1344V1343H1127.8V1344ZM1135.91 1344V1340.5H1139.96V1341.5H1144.01V1344ZM1148.07 1344V1342.5H1152.12V1339.5H1156.18V1338.5H1160.23V1340.5H1164.28V1340H1168.34V1311H1172.39V1339H1176.45V1340.5H1180.5V1342.5H1184.55V1344ZM1188.61 1344V1342H1192.66V1344ZM1196.72 1344V1342.5H1200.77V1339H1204.82V1344ZM1221.04 1344V1340H1225.09V1344ZM1229.15 1344V1338.5H1233.2V1344ZM1245.36 1344V1340.5H1249.42V1342.5H1253.47V1344ZM1257.53 1344V1342.5H1261.58V1342.5H1265.63V1344ZM1269.69 1344V1341.5H1273.74V1342.5H1277.8V1340.5H1281.85V1341H1285.9V1342.5H1289.96V1339.5H1294.01V1339H1298.07V1338.5H1302.12V1342.5H1306.17V1341H1310.23V1344ZM1322.39 1344V1340.5H1326.44V1344ZM1330.5 1344V1341.5H1334.55V1340.5H1338.61V1340.5H1342.66V1342.5H1346.71V1341.5H1350.77V1342H1354.82V1344ZM1375.09 1344V1338.5H1379.15V1344ZM1387.25 1344V1335.5H1391.31V1344ZM1411.58 1344V1342.5H1415.63V1341.5H1419.69V1342.5H1423.74V1341H1427.79V1340.5H1431.85V1340H1435.9V1341.5H1439.96V1340H1444.01V1344ZM1448.06 1344V1341.5H1452.12V1340.5H1456.17V1344ZM1460.23 1344V1340H1464.28V1339H1468.33V1339.5H1472.39V1338H1476.44V1338.5H1480.5V1339.5H1484.55V1342.5H1488.6V1340.5H1492.66V1341H1496.71V1342H1500.77V1344ZM1504.82 1344V1341.5H1508.87V1340.5H1512.93V1341H1516.98V1342.5H1521.04V1340.5H1525.09V1341.5H1529.14V1344ZM1533.2 1344V1342.5H1537.25V1341.5H1541.31V1344Z"/>
<line x1="971" y1="1337.3" x2="1542" y2="1337.3" stroke="#000" stroke-width="1.2" stroke-dasharray="12.2 11.6" stroke-dashoffset="6"/>
<path fill="#0a5b9c" d="M977.8 1440.5V1430.5H981.85V1433H985.91V1434.5H989.96V1432H994.02V1434.5H998.07V1430.5H1002.12V1430.5H1006.18V1437.5H1010.23V1438.5H1014.29V1437H1018.34V1435.5H1022.39V1434.5H1026.45V1434H1030.5V1434H1034.56V1433H1038.61V1429H1042.66V1432H1046.72V1434.5H1050.77V1429H1054.83V1434.5H1058.88V1428H1062.93V1434.5H1066.99V1433H1071.04V1429H1075.1V1432H1079.15V1434.5H1083.2V1437.5H1087.26V1440.5ZM1103.47 1440.5V1437.5H1107.53V1432H1111.58V1435.5H1115.64V1440.5ZM1123.74 1440.5V1439.5H1127.8V1439.5H1131.85V1438.5H1135.91V1437H1139.96V1437H1144.01V1439.5H1148.07V1439.5H1152.12V1439.5H1156.18V1440.5ZM1164.28 1440.5V1434.5H1168.34V1439.5H1172.39V1437H1176.45V1437.5H1180.5V1438.5H1184.55V1435.5H1188.61V1440.5ZM1192.66 1440.5V1434.5H1196.72V1440.5ZM1204.82 1440.5V1432H1208.88V1440.5ZM1221.04 1440.5V1434.5H1225.09V1435.5H1229.15V1437H1233.2V1440.5ZM1237.26 1440.5V1438.5H1241.31V1437H1245.36V1435.5H1249.42V1440.5ZM1253.47 1440.5V1429H1257.53V1440.5ZM1261.58 1440.5V1439.5H1265.63V1437H1269.69V1432H1273.74V1435.5H1277.8V1438.5H1281.85V1440.5ZM1285.9 1440.5V1435.5H1289.96V1437.5H1294.01V1440.5ZM1302.12 1440.5V1439.5H1306.17V1438.5H1310.23V1430H1314.28V1440.5ZM1318.34 1440.5V1435.5H1322.39V1437H1326.44V1438.5H1330.5V1437.5H1334.55V1440.5ZM1338.61 1440.5V1434.5H1342.66V1435.5H1346.71V1430.5H1350.77V1434.5H1354.82V1437H1358.88V1434.5H1362.93V1437H1366.98V1440.5ZM1371.04 1440.5V1435.5H1375.09V1438.5H1379.15V1429H1383.2V1440.5ZM1387.25 1440.5V1437H1391.31V1435.5H1395.36V1433H1399.42V1440.5ZM1407.52 1440.5V1438.5H1411.58V1437H1415.63V1435.5H1419.69V1434.5H1423.74V1437.5H1427.79V1440.5ZM1431.85 1440.5V1435.5H1435.9V1440.5ZM1439.96 1440.5V1437H1444.01V1439.5H1448.06V1440.5ZM1452.12 1440.5V1432H1456.17V1435.5H1460.23V1438.5H1464.28V1440.5ZM1468.33 1440.5V1435.5H1472.39V1434.5H1476.44V1437.5H1480.5V1440.5ZM1484.55 1440.5V1438.5H1488.6V1437.5H1492.66V1439.5H1496.71V1440.5ZM1500.77 1440.5V1437H1504.82V1435.5H1508.87V1432H1512.93V1434.5H1516.98V1433H1521.04V1435.5H1525.09V1438.5H1529.14V1440.5ZM1533.2 1440.5V1437.5H1537.25V1437H1541.31V1440.5Z"/>
<line x1="971" y1="1431.5" x2="1542" y2="1431.5" stroke="#000" stroke-width="1.2" stroke-dasharray="12.2 11.6" stroke-dashoffset="6"/>
<path fill="#a7d5ea" d="M55 1684.3V1559.5H60.01V1561.5H63.38V1563H66.75V1565H70.12V1564.5H73.5V1562H76.87V1559.5H80.24V1557H83.62V1549H86.99V1543H90.36V1545.5H93.74V1544H97.11V1544H100.48V1545.5H103.85V1548.5H107.23V1539H110.6V1531.5H113.97V1529.5H117.35V1529H120.72V1529H124.09V1529H127.47V1530.5H130.84V1532H134.21V1533.5H137.58V1535H140.96V1535H144.33V1529.5H147.7V1526.5H151.08V1525H154.45V1528H157.82V1538.5H161.2V1545.5H164.57V1542.5H167.94V1541.5H171.31V1541.5H174.69V1547H178.06V1550H181.43V1546.5H184.81V1532.5H188.18V1522.5H191.55V1522H194.93V1521H198.3V1521.5H201.67V1523H205.04V1525H208.42V1528.5H211.79V1530H215.16V1530H218.54V1530H221.91V1527.5H225.28V1525.5H228.66V1526H232.03V1525.5H235.4V1523H238.77V1521.5H242.15V1520H245.52V1521.5H248.89V1523.5H252.27V1528.5H255.64V1533H259.01V1535.5H262.39V1531H265.76V1526.5H269.13V1523H272.5V1521.5H275.88V1520H279.25V1524H282.62V1527.5H286V1528.5H289.37V1525H292.74V1523.5H296.12V1523.5H299.49V1524.5H302.86V1526.5H306.23V1529.5H309.61V1528H312.98V1524H316.35V1524.5H319.73V1525.5H323.1V1526H326.47V1523H329.85V1520H333.22V1518.5H336.59V1518.5H339.96V1520H343.34V1523H346.71V1524.5H350.08V1524H353.46V1524H356.83V1525.5H360.2V1532H363.58V1535.5H366.95V1532H370.32V1530.5H373.69V1529H377.07V1528H380.44V1526.5H383.81V1525.5H387.19V1524.5H390.56V1525H393.93V1526H397.31V1529H400.68V1535.5H404.05V1540.5H407.42V1540.5H411.48V1684.3ZM413.49 1684.3V1529.5H417.54V1528H420.92V1527H424.29V1529.5H427.66V1534.5H431.04V1539H434.41V1529.5H437.78V1522.5H441.83V1684.3ZM443.85 1684.3V1527.5H447.9V1529.5H451.95V1684.3ZM453.97 1684.3V1534H458.02V1533.5H461.39V1533H464.77V1532H468.14V1530.5H471.51V1529H474.88V1529.5H478.94V1684.3ZM480.95 1684.3V1531H485V1531H488.38V1531H491.75V1531.5H495.12V1532H498.5V1532.5H501.87V1533.5H505.24V1534H508.61V1535H512.67V1684.3ZM514.68 1684.3V1531H518.73V1531H522.11V1684.3Z"/>
<path fill="#009ad0" d="M55 1853.5V1692.5H60.01V1693H63.38V1694H66.75V1696H70.12V1693.5H73.5V1691.5H76.87V1691.5H80.24V1691.5H83.62V1690.5H86.99V1690H90.36V1691.5H93.74V1692.5H97.11V1687H100.48V1686.5H103.85V1686.5H107.23V1687H110.6V1687.5H113.97V1688.5H117.35V1690.5H120.72V1691.5H124.09V1691.5H127.47V1692H130.84V1690.5H134.21V1689.5H137.58V1689H140.96V1689.5H144.33V1690H147.7V1690H151.08V1689.5H154.45V1689H157.82V1690H161.2V1691.5H164.57V1693H167.94V1694H171.31V1690.5H174.69V1687H178.06V1687H181.43V1688H184.81V1693.5H188.18V1693.5H191.55V1694H194.93V1696.5H198.3V1692.5H201.67V1688.5H205.04V1687.5H208.42V1688.5H211.79V1691.5H215.16V1693.5H218.54V1693.5H221.91V1692H225.28V1693H228.66V1693.5H232.03V1693H235.4V1692H238.77V1692.5H242.15V1692.5H245.52V1693H248.89V1692.5H252.27V1692.5H255.64V1691.5H259.01V1689.5H262.39V1688H265.76V1687.5H269.13V1687.5H272.5V1687H275.88V1687H279.25V1687H282.62V1689H286V1691H289.37V1691.5H292.74V1692H296.12V1693H299.49V1694H302.86V1693H306.23V1691.5H309.61V1694H312.98V1693.5H316.35V1692.5H319.73V1692.5H323.1V1693H326.47V1693.5H329.85V1694H333.22V1694.5H336.59V1694.5H339.96V1693H343.34V1691.5H346.71V1693H350.08V1695H353.46V1695.5H356.83V1695.5H360.2V1693.5H363.58V1692.5H366.95V1692.5H370.32V1692.5H373.69V1692.5H377.07V1693H380.44V1691.5H383.81V1689H387.19V1687H390.56V1687.5H393.93V1688H397.31V1690.5H400.68V1691.5H404.05V1689H407.42V1687H411.48V1853.5ZM413.49 1853.5V1692H417.54V1689.5H420.92V1687.5H424.29V1691.5H427.66V1692H431.04V1690H434.41V1690.5H437.78V1692H441.83V1853.5ZM443.85 1853.5V1693H447.9V1693H451.95V1853.5ZM453.97 1853.5V1688H458.02V1690.5H461.39V1690.5H464.77V1688.5H468.14V1688.5H471.51V1689H474.88V1689H478.94V1853.5ZM480.95 1853.5V1687H485V1687H488.38V1687H491.75V1687H495.12V1689H498.5V1691.5H501.87V1692H505.24V1693H508.61V1690.5H512.67V1853.5ZM514.68 1853.5V1691.5H518.73V1691.5H522.11V1853.5Z"/>
<path fill="#089cd1" d="M55 2022.2V1895H60.01V1894H63.38V1889H66.75V1884H70.12V1879.5H73.5V1877.5H76.87V1876H80.24V1869H83.62V1862H86.99V1860.5H90.36V1863H93.74V1868.5H97.11V1862H100.48V1859H103.85V1863H107.23V1858.5H110.6V1857.5H113.97V1857.5H117.35V1862H120.72V1863.5H124.09V1863.5H127.47V1861.5H130.84V1862.5H134.21V1858.5H137.58V1859.5H140.96V1864H144.33V1865.5H147.7V1863H151.08V1867.5H154.45V1873.5H157.82V1876.5H161.2V1877H164.57V1876.5H167.94V1877.5H171.31V1879H174.69V1880H178.06V1873.5H181.43V1859H184.81V1857.5H188.18V1857H191.55V1856.5H194.93V1856.5H198.3V1858.5H201.67V1860.5H205.04V1861.5H208.42V1856H211.79V1856H215.16V1856.5H218.54V1860.5H221.91V1857H225.28V1856H228.66V1855.5H232.03V1858.5H235.4V1857H238.77V1856H242.15V1859H245.52V1862.5H248.89V1857.5H252.27V1855H255.64V1855H259.01V1855H262.39V1855.5H265.76V1859H269.13V1858H272.5V1855H275.88V1855H279.25V1855H282.62V1855H286V1856.5H289.37V1859.5H292.74V1860.5H296.12V1862H299.49V1864.5H302.86V1866H306.23V1865H309.61V1859H312.98V1864.5H316.35V1869.5H319.73V1870.5H323.1V1865H326.47V1861H329.85V1858.5H333.22V1856H336.59V1856.5H339.96V1857H343.34V1859H346.71V1861.5H350.08V1863.5H353.46V1860H356.83V1857H360.2V1855H363.58V1855H366.95V1855H370.32V1855H373.69V1855H377.07V1855H380.44V1857.5H383.81V1861H387.19V1862H390.56V1863H393.93V1865.5H397.31V1861.5H400.68V1857H404.05V1855.5H407.42V1855H411.48V2022.2ZM413.49 2022.2V1855H417.54V1855H420.92V1855H424.29V1855H427.66V1855H431.04V1855H434.41V1855H437.78V1855H441.83V2022.2ZM443.85 2022.2V1858H447.9V1858H451.95V2022.2ZM453.97 2022.2V1856.5H458.02V1859.5H461.39V1861H464.77V1861.5H468.14V1861.5H471.51V1865H474.88V1865H478.94V2022.2ZM480.95 2022.2V1855H485V1855H488.38V1855H491.75V1860.5H495.12V1859H498.5V1857H501.87V1856.5H505.24V1856H508.61V1855.5H512.67V2022.2ZM514.68 2022.2V1860H518.73V1857.5H522.11V2022.2Z"/>
<path fill="#0071b0" d="M55 2191.2V2043.5H60.01V2040H63.38V2038.5H66.75V2037.5H70.12V2034.5H73.5V2034.5H76.87V2035.5H80.24V2029.5H83.62V2026H86.99V2025H90.36V2027.5H93.74V2028H97.11V2029H100.48V2030H103.85V2030H107.23V2026.5H110.6V2024H113.97V2023.7H117.35V2023.7H120.72V2023.7H124.09V2023.7H127.47V2023.7H130.84V2024H134.21V2024H137.58V2026H140.96V2026H144.33V2024H147.7V2023.7H151.08V2023.7H154.45V2023.7H157.82V2023.7H161.2V2024H164.57V2024H167.94V2028.5H171.31V2031H174.69V2033H178.06V2034H181.43V2027.5H184.81V2025H188.18V2024H191.55V2024H194.93V2024H198.3V2024H201.67V2025.5H205.04V2029H208.42V2031.5H211.79V2033H215.16V2033.5H218.54V2030H221.91V2028.5H225.28V2027.5H228.66V2028.5H232.03V2030H235.4V2029.5H238.77V2028H242.15V2025.5H245.52V2025.5H248.89V2026.5H252.27V2027H255.64V2027.5H259.01V2026.5H262.39V2026H265.76V2026.5H269.13V2027H272.5V2024.5H275.88V2026.5H279.25V2027.5H282.62V2025.5H286V2024H289.37V2023.7H292.74V2023.7H296.12V2023.7H299.49V2024.5H302.86V2028H306.23V2032H309.61V2032.5H312.98V2025.5H316.35V2024H319.73V2024H323.1V2028H326.47V2028H329.85V2027.5H333.22V2027H336.59V2026.5H339.96V2027.5H343.34V2029H346.71V2028H350.08V2027H353.46V2024.5H356.83V2024.5H360.2V2025H363.58V2027.5H366.95V2029.5H370.32V2029H373.69V2026.5H377.07V2024.5H380.44V2024.5H383.81V2025H387.19V2025.5H390.56V2026.5H393.93V2028H397.31V2029.5H400.68V2029H404.05V2027H407.42V2029H411.48V2191.2ZM413.49 2191.2V2030H417.54V2030.5H420.92V2031.5H424.29V2032.5H427.66V2031.5H431.04V2030.5H434.41V2030.5H437.78V2030.5H441.83V2191.2ZM443.85 2191.2V2027.5H447.9V2029H451.95V2191.2ZM453.97 2191.2V2031.5H458.02V2031H461.39V2031H464.77V2032.5H468.14V2033.5H471.51V2035H474.88V2035H478.94V2191.2ZM480.95 2191.2V2031H485V2030H488.38V2028.5H491.75V2027.5H495.12V2028.5H498.5V2029.5H501.87V2031H505.24V2032.5H508.61V2034H512.67V2191.2ZM514.68 2191.2V2029H518.73V2027.5H522.11V2191.2Z"/>
<path fill="#0073b1" d="M584.19 1685.3V1542H587.67V1543H591.15V1538H594.62V1534H598.1V1531.5H601.58V1530.5H605.05V1525.5H608.53V1520H612.01V1519.5H615.49V1519.5H618.96V1519.5H622.44V1520H625.92V1521.5H629.39V1525H632.87V1527H636.35V1528.5H639.82V1529H643.3V1527H646.78V1523.5H650.26V1520.5H653.73V1523H657.21V1525H660.69V1527.5H664.16V1529H667.64V1535.5H671.12V1532H674.59V1532H678.07V1533.5H681.55V1533.5H685.03V1528H688.5V1524H691.98V1524.5H695.46V1525H698.93V1527H702.41V1529H705.89V1530.5H709.36V1532H712.84V1529.5H716.32V1527H719.8V1529H723.27V1527.5H726.75V1525.5H730.23V1523.5H733.7V1529H737.18V1530H740.66V1532H744.13V1532H747.61V1523H751.09V1522H754.57V1525H758.04V1530H761.52V1532.5H765V1523.5H768.47V1519.5H771.95V1520.5H775.43V1524.5H778.9V1523.5H782.38V1519.5H785.86V1522.5H789.34V1526H792.81V1525H796.29V1524.5H799.77V1524H803.24V1522H806.72V1521H810.2V1522.5H813.67V1528.5H817.15V1527.5H820.63V1522.5H824.11V1517.5H827.58V1517.5H831.06V1526H834.54V1521.5H838.01V1521H841.49V1523.5H844.97V1525.5H848.44V1525H851.92V1523.5H855.4V1525.5H858.88V1526H862.35V1523.5H865.83V1523H869.31V1522.5H872.78V1526.5H876.26V1529.5H879.74V1531H883.21V1527.5H886.69V1526H890.17V1525H893.65V1521.5H897.12V1519.5H900.6V1520H904.08V1526.5H907.55V1524.5H911.03V1521H914.51V1518H917.98V1522.5H921.46V1527.5H924.94V1529.5H928.42V1529H931.89V1526.5H935.37V1526.5H938.85V1531.5H942.32V1532.5H945.8V1536.5H949.96V1685.3ZM952.07 1685.3V1530H956.23V1529.5H959.71V1527H963.19V1526.5H966.66V1532H970.14V1526H973.62V1523.5H977.09V1524.5H981.25V1685.3ZM983.37 1685.3V1534.5H987.52V1530.5H991.68V1685.3ZM993.8 1685.3V1531.5H997.96V1535H1001.43V1539.5H1004.91V1534.5H1008.39V1526.5H1011.86V1525.5H1015.34V1525H1019.5V1685.3ZM1021.61 1685.3V1524H1025.77V1524H1029.25V1525H1032.73V1527H1036.2V1530.5H1039.68V1535H1043.16V1538H1046.63V1539.5H1050.11V1539.5H1054.27V1685.3ZM1056.38 1685.3V1535H1060.54V1535H1064.02V1685.3Z"/>
<path fill="#0073b1" d="M584.19 1854.9V1733.5H587.67V1732.5H591.15V1730H594.62V1725.5H598.1V1718.5H601.58V1712.5H605.05V1704.5H608.53V1701.5H612.01V1700.5H615.49V1697.5H618.96V1696H622.44V1699H625.92V1703H629.39V1707H632.87V1708H636.35V1707H639.82V1705.5H643.3V1705H646.78V1701.5H650.26V1703.5H653.73V1708.5H657.21V1705.5H660.69V1702.5H664.16V1707.5H667.64V1711.5H671.12V1712H674.59V1712H678.07V1711.5H681.55V1706H685.03V1701H688.5V1702.5H691.98V1703H695.46V1703.5H698.93V1704H702.41V1713.5H705.89V1728H709.36V1738H712.84V1729.5H716.32V1711.5H719.8V1702H723.27V1701H726.75V1704.5H730.23V1703.5H733.7V1702.5H737.18V1703.5H740.66V1705H744.13V1705.5H747.61V1703.5H751.09V1700.5H754.57V1703.5H758.04V1709.5H761.52V1712.5H765V1705H768.47V1701.5H771.95V1701.5H775.43V1707.5H778.9V1694.5H782.38V1693H785.86V1698.5H789.34V1701.5H792.81V1696.5H796.29V1695.5H799.77V1694H803.24V1691.5H806.72V1691H810.2V1692.5H813.67V1696.5H817.15V1699.5H820.63V1691H824.11V1689.5H827.58V1689.5H831.06V1699H834.54V1697.5H838.01V1697H841.49V1698H844.97V1697H848.44V1696H851.92V1698H855.4V1697.5H858.88V1697.5H862.35V1698H865.83V1698H869.31V1697H872.78V1695H876.26V1696.5H879.74V1700H883.21V1701H886.69V1699H890.17V1699H893.65V1698H897.12V1695H900.6V1695.5H904.08V1702.5H907.55V1702.5H911.03V1702.5H914.51V1701.5H917.98V1702.5H921.46V1705H924.94V1705.5H928.42V1702H931.89V1701.5H935.37V1707H938.85V1709H942.32V1711H945.8V1715H949.96V1854.9ZM952.07 1854.9V1705H956.23V1709H959.71V1709.5H963.19V1704H966.66V1705H970.14V1708H973.62V1705H977.09V1699H981.25V1854.9ZM983.37 1854.9V1700.5H987.52V1700.5H991.68V1854.9ZM993.8 1854.9V1710H997.96V1710H1001.43V1707H1004.91V1706.5H1008.39V1707.5H1011.86V1709H1015.34V1703H1019.5V1854.9ZM1021.61 1854.9V1697.5H1025.77V1697H1029.25V1699H1032.73V1704.5H1036.2V1709H1039.68V1711.5H1043.16V1711.5H1046.63V1710.5H1050.11V1710.5H1054.27V1854.9ZM1056.38 1854.9V1704.5H1060.54V1700.5H1064.02V1854.9Z"/>
<path fill="#0073b1" d="M584.19 2024.2V1930H587.67V1933H591.15V1937.5H594.62V1934.5H598.1V1924H601.58V1911.5H605.05V1894.5H608.53V1882H612.01V1881H615.49V1882H618.96V1884H622.44V1885.5H625.92V1882.5H629.39V1881.5H632.87V1882H636.35V1882H639.82V1881H643.3V1880.5H646.78V1880.5H650.26V1880H653.73V1879.5H657.21V1878H660.69V1880H664.16V1882.5H667.64V1885H671.12V1887H674.59V1887.5H678.07V1886.5H681.55V1885H685.03V1885.5H688.5V1887H691.98V1888H695.46V1889H698.93V1899H702.41V1912H705.89V1921H709.36V1929H712.84V1922H716.32V1901.5H719.8V1885H723.27V1885H726.75V1887.5H730.23V1887H733.7V1882H737.18V1884H740.66V1885.5H744.13V1882H747.61V1879H751.09V1882H754.57V1879H758.04V1876.5H761.52V1876.5H765V1883H768.47V1888H771.95V1885.5H775.43V1881H778.9V1877.5H782.38V1875H785.86V1875H789.34V1878.5H792.81V1879.5H796.29V1879.5H799.77V1880H803.24V1881H806.72V1882.5H810.2V1884H813.67V1885.5H817.15V1887.5H820.63V1881.5H824.11V1876.5H827.58V1876.5H831.06V1886H834.54V1888H838.01V1880H841.49V1877H844.97V1877H848.44V1881H851.92V1882H855.4V1881.5H858.88V1884.5H862.35V1886.5H865.83V1884.5H869.31V1881H872.78V1879H876.26V1880H879.74V1884H883.21V1884H886.69V1884H890.17V1884H893.65V1884H897.12V1883.5H900.6V1883.5H904.08V1884H907.55V1883.5H911.03V1882.5H914.51V1880H917.98V1882.5H921.46V1883H924.94V1882.5H928.42V1881H931.89V1880.5H935.37V1881.5H938.85V1888H942.32V1885H945.8V1883.5H949.96V2024.2ZM952.07 2024.2V1882H956.23V1882.5H959.71V1880H963.19V1872H966.66V1872.5H970.14V1874H973.62V1872.5H977.09V1870.5H981.25V2024.2ZM983.37 2024.2V1876.5H987.52V1875.5H991.68V2024.2ZM993.8 2024.2V1879.5H997.96V1876.5H1001.43V1876H1004.91V1876.5H1008.39V1878.5H1011.86V1879.5H1015.34V1880.5H1019.5V2024.2ZM1021.61 2024.2V1876.5H1025.77V1876H1029.25V1873.5H1032.73V1873.5H1036.2V1874.5H1039.68V1876.5H1043.16V1877.5H1046.63V1879.5H1050.11V1882H1054.27V2024.2ZM1056.38 2024.2V1873.5H1060.54V1870.5H1064.02V2024.2Z"/>
<path fill="#0073b1" d="M584.19 2193V2118.5H587.67V2126.5H591.15V2132.5H594.62V2131H598.1V2120.5H601.58V2103.5H605.05V2090H608.53V2083H612.01V2077.5H615.49V2072.5H618.96V2067H622.44V2063.5H625.92V2064.5H629.39V2070H632.87V2067.5H636.35V2067H639.82V2068.5H643.3V2068.5H646.78V2067.5H650.26V2067H653.73V2066.5H657.21V2066.5H660.69V2068H664.16V2071.5H667.64V2073.5H671.12V2073H674.59V2072.5H678.07V2071.5H681.55V2070.5H685.03V2070.5H688.5V2076.5H691.98V2081H695.46V2078H698.93V2079H702.41V2090.5H705.89V2105.5H709.36V2115H712.84V2104.5H716.32V2082H719.8V2059H723.27V2051.5H726.75V2051.5H730.23V2054.5H733.7V2053H737.18V2051.5H740.66V2050.5H744.13V2049.5H747.61V2045H751.09V2049H754.57V2052.5H758.04V2053H761.52V2051.5H765V2047.5H768.47V2045.5H771.95V2050H775.43V2053.5H778.9V2051.5H782.38V2051.5H785.86V2060.5H789.34V2055.5H792.81V2052H796.29V2051.5H799.77V2059H803.24V2062H806.72V2056.5H810.2V2053.5H813.67V2051H817.15V2050H820.63V2050H824.11V2054H827.58V2055H831.06V2055H834.54V2053H838.01V2053H841.49V2055.5H844.97V2059.5H848.44V2061.5H851.92V2058.5H855.4V2057H858.88V2056.5H862.35V2057H865.83V2056.5H869.31V2052H872.78V2046.5H876.26V2054H879.74V2061H883.21V2060.5H886.69V2060H890.17V2059H893.65V2055.5H897.12V2053.5H900.6V2054.5H904.08V2055.5H907.55V2054.5H911.03V2053H914.51V2052H917.98V2050H921.46V2052H924.94V2054.5H928.42V2057H931.89V2058H935.37V2058.5H938.85V2061H942.32V2062.5H945.8V2063H949.96V2193ZM952.07 2193V2058H956.23V2058H959.71V2058H963.19V2058H966.66V2057.5H970.14V2057H973.62V2051H977.09V2046.5H981.25V2193ZM983.37 2193V2062H987.52V2066H991.68V2193ZM993.8 2193V2057H997.96V2059.5H1001.43V2062H1004.91V2059.5H1008.39V2057H1011.86V2058.5H1015.34V2059.5H1019.5V2193ZM1021.61 2193V2055.5H1025.77V2054H1029.25V2051.5H1032.73V2054.5H1036.2V2060.5H1039.68V2064H1043.16V2066.5H1046.63V2068H1050.11V2068.5H1054.27V2193ZM1056.38 2193V2047H1060.54V2045H1064.02V2193Z"/>
<path fill="#0073b1" d="M584.19 2361.6V2304.5H587.67V2311.5H591.15V2315.5H594.62V2312.5H598.1V2303H601.58V2289.5H605.05V2280.5H608.53V2268.5H612.01V2255.5H615.49V2248.5H618.96V2242H622.44V2236H625.92V2234.5H629.39V2239H632.87V2240H636.35V2240H639.82V2240H643.3V2239.5H646.78V2240H650.26V2239H653.73V2235.5H657.21V2234H660.69V2237H664.16V2241.5H667.64V2245.5H671.12V2248H674.59V2248.5H678.07V2248H681.55V2248H685.03V2248.5H688.5V2250H691.98V2250H695.46V2249.5H698.93V2259H702.41V2275.5H705.89V2289.5H709.36V2294.5H712.84V2286.5H716.32V2273H719.8V2258H723.27V2249H726.75V2244H730.23V2240.5H733.7V2241H737.18V2240.5H740.66V2239.5H744.13V2237.5H747.61V2231.5H751.09V2232H754.57V2235.5H758.04V2239H761.52V2237H765V2236H768.47V2235.5H771.95V2234.5H775.43V2231H778.9V2230.5H782.38V2233.5H785.86V2239H789.34V2234.5H792.81V2230.5H796.29V2229H799.77V2229H803.24V2233H806.72V2237.5H810.2V2235.5H813.67V2234.5H817.15V2234.5H820.63V2236H824.11V2235.5H827.58V2235H831.06V2236.5H834.54V2233.5H838.01V2232.5H841.49V2233H844.97V2234.5H848.44V2236.5H851.92V2236.5H855.4V2237H858.88V2235.5H862.35V2233.5H865.83V2230H869.31V2227.5H872.78V2227H876.26V2229H879.74V2231H883.21V2232.5H886.69V2234.5H890.17V2238.5H893.65V2241H897.12V2237H900.6V2234.5H904.08V2234.5H907.55V2235.5H911.03V2234H914.51V2232H917.98V2236H921.46V2237H924.94V2236H928.42V2233H931.89V2230.5H935.37V2233H938.85V2239.5H942.32V2239.5H945.8V2239H949.96V2361.6ZM952.07 2361.6V2227.5H956.23V2231.5H959.71V2232H963.19V2234.5H966.66V2238.5H970.14V2234.5H973.62V2229H977.09V2228H981.25V2361.6ZM983.37 2361.6V2236H987.52V2236H991.68V2361.6ZM993.8 2361.6V2238.5H997.96V2240.5H1001.43V2241.5H1004.91V2238.5H1008.39V2233H1011.86V2232.5H1015.34V2233.5H1019.5V2361.6ZM1021.61 2361.6V2237H1025.77V2237H1029.25V2237.5H1032.73V2239.5H1036.2V2238.5H1039.68V2240.5H1043.16V2244H1046.63V2240.5H1050.11V2239.5H1054.27V2361.6ZM1056.38 2361.6V2218H1060.54V2216.5H1064.02V2361.6Z"/>
<path fill="#005da1" d="M1071.4 1685.3V1519.5H1076.3V1520.5H1079.76V1519.5H1083.21V1518.5H1086.67V1517.5H1090.13V1520H1093.58V1522H1097.04V1520.5H1100.5V1518.5H1103.96V1519H1107.41V1519H1110.87V1518.5H1114.33V1518H1117.78V1517.5H1121.24V1520.5H1124.7V1519.5H1128.15V1518.5H1131.61V1517.5H1135.07V1517.5H1138.53V1518H1141.98V1519.5H1145.44V1521H1148.9V1519.5H1152.35V1519H1155.81V1518.5H1159.27V1518H1162.72V1517.5H1166.18V1517.5H1169.64V1518H1173.1V1519H1176.55V1519H1180.01V1518.5H1183.47V1518.5H1186.92V1520H1190.38V1519.5H1193.84V1517.5H1197.29V1519.5H1200.75V1521.5H1204.21V1519.5H1207.67V1518H1211.12V1518H1214.58V1517.5H1218.04V1517.5H1221.49V1518.5H1224.95V1519.5H1228.41V1520H1231.86V1520.5H1235.32V1520.5H1238.78V1520H1242.24V1519.5H1245.69V1518.5H1249.15V1517.5H1252.61V1518.5H1256.06V1519.5H1259.52V1519H1262.98V1517.5H1266.43V1518H1269.89V1518.5H1273.35V1519.5H1276.81V1519.5H1280.26V1520H1283.72V1520.5H1287.18V1520H1290.63V1520H1294.09V1519.5H1297.55V1519H1301V1518.5H1304.46V1517.5H1307.92V1520H1311.38V1522.5H1314.83V1523H1318.29V1522.5H1321.75V1521H1325.2V1521H1328.66V1521H1332.12V1521.5H1335.57V1521H1339.03V1520H1342.49V1519.5H1345.95V1521H1349.4V1522H1352.86V1522.5H1356.32V1521.5H1359.77V1520.5H1363.23V1520H1366.69V1519.5H1370.14V1519H1373.6V1518.5H1377.06V1518H1380.52V1518H1383.97V1517.5H1387.43V1517.5H1390.89V1518H1394.34V1520H1397.8V1521.5H1401.26V1522.5H1404.71V1521.5H1408.17V1519.5H1411.63V1519H1415.09V1518.5H1418.54V1519.5H1422V1521H1425.46V1521.5H1428.91V1522H1432.37V1523H1436.51V1685.3ZM1438.6 1685.3V1523H1442.74V1522H1446.2V1520.5H1449.66V1520.5H1453.11V1523.5H1456.57V1523.5H1460.03V1522.5H1463.48V1522.5H1467.62V1685.3ZM1469.72 1685.3V1524.5H1473.85V1525.5H1477.99V1685.3ZM1480.09 1685.3V1520.5H1484.23V1522.5H1487.68V1520H1491.14V1518H1494.6V1517.5H1498.05V1517.5H1501.51V1519H1505.65V1685.3ZM1507.74 1685.3V1519.5H1511.88V1519H1515.34V1518H1518.8V1517.5H1522.25V1517.5H1525.71V1518H1529.17V1519H1532.62V1520.5H1536.08V1522H1540.22V1685.3ZM1542.31 1685.3V1519.5H1546.45V1518.5H1549.91V1685.3Z"/>
<path fill="#005da1" d="M1073.1 1854.9V1691.5H1076.3V1691H1079.76V1690H1083.21V1689H1086.67V1688H1090.13V1687.5H1093.58V1687.5H1097.04V1688H1100.5V1688H1103.96V1688H1107.41V1687.5H1110.87V1687.5H1114.33V1688H1117.78V1688.5H1121.24V1689H1124.7V1688.5H1128.15V1687.5H1131.61V1687.5H1135.07V1688H1138.53V1688.5H1141.98V1690H1145.44V1691H1148.9V1692H1152.35V1694H1155.81V1696.5H1159.27V1691.5H1162.72V1690.5H1166.18V1692.5H1169.64V1691H1173.1V1690H1176.55V1691H1180.01V1692.5H1183.47V1694.5H1186.92V1691H1190.38V1688.5H1193.84V1689H1197.29V1689.5H1200.75V1690H1204.21V1690.5H1207.67V1692H1211.12V1693H1214.58V1690.5H1218.04V1689.5H1221.49V1691H1224.95V1692H1228.41V1692.5H1231.86V1692H1235.32V1691.5H1238.78V1690.5H1242.24V1690.5H1245.69V1690.5H1249.15V1690.5H1252.61V1692H1256.06V1693.5H1259.52V1693H1262.98V1691.5H1266.43V1691H1269.89V1690H1273.35V1689H1276.81V1691.5H1280.26V1692.5H1283.72V1690.5H1287.18V1690.5H1290.63V1691.5H1294.09V1691H1297.55V1690H1301V1689.5H1304.46V1689.5H1307.92V1691H1311.38V1694H1314.83V1693.5H1318.29V1693H1321.75V1691H1325.2V1689H1328.66V1688H1332.12V1688.5H1335.57V1692.5H1339.03V1693.5H1342.49V1689.5H1345.95V1689.5H1349.4V1690H1352.86V1691H1356.32V1691.5H1359.77V1691H1363.23V1690.5H1366.69V1690H1370.14V1689.5H1373.6V1691H1377.06V1693H1380.52V1694.5H1383.97V1696H1387.43V1692H1390.89V1690H1394.34V1688.5H1397.8V1688H1401.26V1687.5H1404.71V1687.5H1408.17V1689H1411.63V1690H1415.09V1691.5H1418.54V1690H1422V1688.5H1425.46V1691H1428.91V1691.5H1432.37V1690H1436.51V1854.9ZM1438.6 1854.9V1692.5H1442.74V1692H1446.2V1691.5H1449.66V1691.5H1453.11V1691.5H1456.57V1691H1460.03V1689.5H1463.48V1691.5H1467.62V1854.9ZM1469.72 1854.9V1689.5H1473.85V1691H1477.99V1854.9ZM1480.09 1854.9V1688.5H1484.23V1691H1487.68V1690.5H1491.14V1689.5H1494.6V1689.5H1498.05V1689.5H1501.51V1689.5H1505.65V1854.9ZM1507.74 1854.9V1696.5H1511.88V1694H1515.34V1691.5H1518.8V1689H1522.25V1687.5H1525.71V1688.5H1529.17V1690.5H1532.62V1691H1536.08V1691.5H1540.22V1854.9ZM1542.31 1854.9V1687.5H1546.45V1687.5H1549.91V1854.9Z"/>
<path fill="#005da1" d="M1073.1 2024.2V1859.5H1076.3V1858.5H1079.76V1858H1083.21V1858H1086.67V1857.5H1090.13V1857.5H1093.58V1857.5H1097.04V1857.5H1100.5V1857.5H1103.96V1857.5H1107.41V1857.5H1110.87V1857.5H1114.33V1857.5H1117.78V1857.5H1121.24V1858.5H1124.7V1859.5H1128.15V1860H1131.61V1860.5H1135.07V1859H1138.53V1858H1141.98V1858H1145.44V1857.5H1148.9V1857.5H1152.35V1858H1155.81V1859H1159.27V1858.5H1162.72V1858H1166.18V1864.5H1169.64V1859.5H1173.1V1858.5H1176.55V1859H1180.01V1860H1183.47V1862.5H1186.92V1860.5H1190.38V1859H1193.84V1858.5H1197.29V1858.5H1200.75V1858H1204.21V1857.5H1207.67V1857.5H1211.12V1858H1214.58V1859H1218.04V1859.5H1221.49V1859.5H1224.95V1858H1228.41V1858H1231.86V1859.5H1235.32V1860.5H1238.78V1859.5H1242.24V1858.5H1245.69V1858.5H1249.15V1859H1252.61V1860H1256.06V1861.5H1259.52V1859.5H1262.98V1857.5H1266.43V1858.5H1269.89V1859.5H1273.35V1860.5H1276.81V1860H1280.26V1859.5H1283.72V1860H1287.18V1861H1290.63V1862.5H1294.09V1864.5H1297.55V1863H1301V1860.5H1304.46V1858.5H1307.92V1858H1311.38V1859H1314.83V1860H1318.29V1859.5H1321.75V1859.5H1325.2V1859.5H1328.66V1859H1332.12V1858H1335.57V1857.5H1339.03V1858H1342.49V1858.5H1345.95V1859.5H1349.4V1860H1352.86V1859H1356.32V1858H1359.77V1857.5H1363.23V1857.5H1366.69V1858H1370.14V1858H1373.6V1858.5H1377.06V1859H1380.52V1860H1383.97V1862H1387.43V1862H1390.89V1860H1394.34V1859H1397.8V1858.5H1401.26V1860.5H1404.71V1862H1408.17V1861H1411.63V1860.5H1415.09V1861.5H1418.54V1861H1422V1860.5H1425.46V1862.5H1428.91V1862H1432.37V1860H1436.51V2024.2ZM1438.6 2024.2V1860H1442.74V1859.5H1446.2V1859.5H1449.66V1859.5H1453.11V1859.5H1456.57V1858.5H1460.03V1860.5H1463.48V1865H1467.62V2024.2ZM1469.72 2024.2V1860H1473.85V1862.5H1477.99V2024.2ZM1480.09 2024.2V1864.5H1484.23V1864.5H1487.68V1860.5H1491.14V1858.5H1494.6V1857.5H1498.05V1857.5H1501.51V1857.5H1505.65V2024.2ZM1507.74 2024.2V1864H1511.88V1864H1515.34V1860.5H1518.8V1858.5H1522.25V1858H1525.71V1860H1529.17V1861H1532.62V1860H1536.08V1860H1540.22V2024.2ZM1542.31 2024.2V1859H1546.45V1860H1549.91V2024.2Z"/>
<path fill="#005da1" d="M1073.1 2193V2031H1076.3V2030.5H1079.76V2029.5H1083.21V2028.5H1086.67V2027.5H1090.13V2030H1093.58V2033.5H1097.04V2032.5H1100.5V2031H1103.96V2030H1107.41V2029H1110.87V2028.5H1114.33V2029.5H1117.78V2030.5H1121.24V2032H1124.7V2032.5H1128.15V2030.5H1131.61V2029H1135.07V2028.5H1138.53V2028H1141.98V2027.5H1145.44V2028H1148.9V2029.5H1152.35V2032.5H1155.81V2035.5H1159.27V2037H1162.72V2036.5H1166.18V2039.5H1169.64V2035H1173.1V2034.5H1176.55V2037H1180.01V2040H1183.47V2036H1186.92V2031H1190.38V2026.5H1193.84V2027.5H1197.29V2028.5H1200.75V2029.5H1204.21V2031H1207.67V2033.5H1211.12V2036H1214.58V2037.5H1218.04V2035H1221.49V2032.5H1224.95V2031H1228.41V2029.5H1231.86V2030H1235.32V2030.5H1238.78V2030H1242.24V2029H1245.69V2033H1249.15V2032H1252.61V2030H1256.06V2030.5H1259.52V2031H1262.98V2031.5H1266.43V2031H1269.89V2029.5H1273.35V2029.5H1276.81V2031.5H1280.26V2038H1283.72V2035H1287.18V2032H1290.63V2032.5H1294.09V2032H1297.55V2030H1301V2026.5H1304.46V2027.5H1307.92V2031.5H1311.38V2037H1314.83V2033.5H1318.29V2033H1321.75V2034H1325.2V2032.5H1328.66V2031.5H1332.12V2030.5H1335.57V2029.5H1339.03V2028H1342.49V2028H1345.95V2028.5H1349.4V2033H1352.86V2033.5H1356.32V2034H1359.77V2033.5H1363.23V2033H1366.69V2030.5H1370.14V2028.5H1373.6V2027.5H1377.06V2028H1380.52V2029.5H1383.97V2032H1387.43V2033.5H1390.89V2034.5H1394.34V2037H1397.8V2038H1401.26V2038.5H1404.71V2037.5H1408.17V2037H1411.63V2036.5H1415.09V2037.5H1418.54V2035.5H1422V2032H1425.46V2033.5H1428.91V2035H1432.37V2036.5H1436.51V2193ZM1438.6 2193V2037.5H1442.74V2036.5H1446.2V2034H1449.66V2032.5H1453.11V2034.5H1456.57V2032.5H1460.03V2031H1463.48V2030.5H1467.62V2193ZM1469.72 2193V2032.5H1473.85V2032H1477.99V2193ZM1480.09 2193V2031.5H1484.23V2030.5H1487.68V2029.5H1491.14V2029H1494.6V2030.5H1498.05V2029H1501.51V2028H1505.65V2193ZM1507.74 2193V2044.5H1511.88V2036.5H1515.34V2031H1518.8V2032.5H1522.25V2035H1525.71V2036H1529.17V2033.5H1532.62V2031.5H1536.08V2031.5H1540.22V2193ZM1542.31 2193V2030.5H1546.45V2029.5H1549.91V2193Z"/>
<path fill="#005da1" d="M1073.1 2361.6V2204.5H1076.3V2201H1079.76V2198.5H1083.21V2199.5H1086.67V2199.5H1090.13V2199H1093.58V2199.5H1097.04V2201H1100.5V2201.5H1103.96V2199H1107.41V2197.5H1110.87V2197.5H1114.33V2199.5H1117.78V2203.5H1121.24V2200H1124.7V2198H1128.15V2197H1131.61V2197.5H1135.07V2198H1138.53V2199.5H1141.98V2200.5H1145.44V2200H1148.9V2200H1152.35V2202H1155.81V2208.5H1159.27V2204.5H1162.72V2205H1166.18V2206.5H1169.64V2205H1173.1V2197H1176.55V2198.5H1180.01V2203H1183.47V2201H1186.92V2202H1190.38V2203H1193.84V2205H1197.29V2201.5H1200.75V2199.5H1204.21V2199H1207.67V2199.5H1211.12V2194.5H1214.58V2195H1218.04V2201H1221.49V2202H1224.95V2201H1228.41V2200H1231.86V2199.5H1235.32V2199H1238.78V2198H1242.24V2201.5H1245.69V2203.5H1249.15V2198.5H1252.61V2198.5H1256.06V2200H1259.52V2199H1262.98V2199H1266.43V2199.5H1269.89V2201H1273.35V2203H1276.81V2204H1280.26V2204.5H1283.72V2204H1287.18V2199.5H1290.63V2199.5H1294.09V2207.5H1297.55V2200.5H1301V2200.5H1304.46V2201.5H1307.92V2203H1311.38V2208H1314.83V2213.5H1318.29V2208H1321.75V2204H1325.2V2203.5H1328.66V2202.5H1332.12V2201.5H1335.57V2199.5H1339.03V2197H1342.49V2197.5H1345.95V2211H1349.4V2214.5H1352.86V2207.5H1356.32V2206H1359.77V2205H1363.23V2204.5H1366.69V2204H1370.14V2203.5H1373.6V2204.5H1377.06V2207H1380.52V2211H1383.97V2211H1387.43V2201.5H1390.89V2199.5H1394.34V2202H1397.8V2203.5H1401.26V2204H1404.71V2203.5H1408.17V2202.5H1411.63V2202H1415.09V2203H1418.54V2208H1422V2204H1425.46V2209H1428.91V2210H1432.37V2208.5H1436.51V2361.6ZM1438.6 2361.6V2208H1442.74V2207.5H1446.2V2205.5H1449.66V2203.5H1453.11V2203H1456.57V2203.5H1460.03V2204H1463.48V2205H1467.62V2361.6ZM1469.72 2361.6V2200.5H1473.85V2200.5H1477.99V2361.6ZM1480.09 2361.6V2208H1484.23V2206H1487.68V2201H1491.14V2201.5H1494.6V2206H1498.05V2208.5H1501.51V2208.5H1505.65V2361.6ZM1507.74 2361.6V2222.5H1511.88V2212.5H1515.34V2205.5H1518.8V2204H1522.25V2205H1525.71V2207H1529.17V2205H1532.62V2207H1536.08V2211H1540.22V2361.6ZM1542.31 2361.6V2198H1546.45V2198.5H1549.91V2361.6Z"/>
<line x1="73.3" y1="2313.7" x2="532" y2="2313.7" stroke="#3c3c3c" stroke-width="1.1" stroke-dasharray="10 7.5" stroke-dashoffset="4"/>
<line x1="73.3" y1="2324" x2="532" y2="2324" stroke="#e2503e" stroke-width="1.25"/>
<line x1="73.3" y1="2442.4" x2="532" y2="2442.4" stroke="#3c3c3c" stroke-width="1.1" stroke-dasharray="10 7.5" stroke-dashoffset="4"/>
<line x1="73.3" y1="2454.9" x2="532" y2="2454.9" stroke="#e2503e" stroke-width="1.6"/>
<polyline fill="none" stroke="#686868" stroke-width="1.35" stroke-linejoin="round" points="84.37,2339.76 88.02,2340.24 91.19,2332.3 94.37,2320.87 97.86,2317.22 101.19,2296.11 104.68,2292.62 107.54,2290.24 111.35,2283.89 114.21,2292.14 117.06,2292.62 120.56,2303.73 123.73,2302.94 127.22,2292.62 130.4,2292.14 134.05,2283.1 137.22,2275.16 140.4,2273.25 143.89,2272.3 147.06,2281.19 150.71,2277.54 153.41,2280.24 156.59,2286.75 159.76,2278.33 162.94,2277.54 166.59,2279.13 169.76,2270.4 172.94,2270.71 176.9,2273.57 180.08,2273.89 183.25,2283.1 186.43,2298.17 189.6,2316.43 192.46,2340.24 195.16,2346.59 198.33,2348.97 200.71,2346.59 203.1,2341.03 205.48,2322.78 209.44,2302.94 212.62,2287.86 216.11,2275.63 219.29,2286.27 222.46,2295.48 226.11,2294.52 229.29,2301.35 232.78,2311.35 235.63,2300.56 239.13,2303.73 242.3,2313.25 245.48,2294.52 249.13,2298.17 252.3,2306.11 255.48,2289.76 258.65,2289.44 262.14,2287.54 265.48,2275.16 268.97,2284.37 272.14,2285.48 275,2281.83 278.17,2299.76 281.67,2292.62 284.84,2286.27 288.33,2297.06 291.19,2288.17 294.68,2294.21 298.33,2302.94 301.51,2302.14 301.59,2302.14 304.76,2314.05 311.11,2307.7 314.29,2315.63 317.78,2298.97 320.95,2292.62 324.13,2301.35 327.46,2284.68 334.13,2293.1 337.62,2285 340.79,2290.71 344.44,2283.1 347.62,2279.92 350.79,2293.73 353.49,2283.57 356.35,2287.54 360.32,2301.35 363.49,2291.83 366.98,2288.65 370.32,2303.41 373.33,2300.56 376.98,2302.46 380.16,2319.29 383.33,2314.84 386.83,2299.76 390.16,2315.63 393.33,2295 396.51,2287.54 399.68,2298.97 403.17,2284.37 406.35,2283.57 409.52,2281.83 413.02,2265.63 416.35,2273.57 419.37,2268.02 423.02,2273.25 426.19,2275.16 429.37,2283.1 433.02,2306.11 435.71,2310.87 438.89,2321.19 442.06,2336.27 445.24,2326.75 448.89,2335.95 452.38,2326.75 455.87,2314.84 459.21,2314.05 462.38,2305.32 465.87,2297.38 469.05,2285 472.22,2287.06 475.71,2291.83 479.05,2298.97 482.06,2317.7 484.92,2312.94 488.41,2317.54 491.59,2314.84 494.92,2291.03 498.41,2304.05 501.9,2290.71 505.24,2285.95 508.73,2313.57 511.59,2300.56 514.6,2308.49 517.78,2323.1 521.43,2296.11"/>
<polyline fill="none" stroke="#686868" stroke-width="1.35" stroke-linejoin="round" points="73.25,2435.87 79.29,2434.29 83.25,2442.22 86.75,2447.46 89.92,2443.02 93.25,2438.73 96.75,2441.75 99.92,2437.46 103.1,2415.24 106.59,2412.54 110.24,2420.79 113.73,2427.94 118.97,2433.49 122.94,2440.63 126.9,2433.49 130.4,2427.94 134.05,2427.94 137.22,2423.17 140.4,2418.73 143.57,2418.73 147.06,2427.94 150.71,2428.73 153.41,2426.83 156.59,2433.49 159.44,2436.67 162.94,2429.52 166.59,2423.97 169.76,2425.24 173.73,2420.48 176.9,2416.83 179.6,2417.14 183.25,2426.35 186.9,2436.67 190.4,2447.78 193.57,2460.48 196.27,2463.65 199.92,2456.51 202.3,2444.6 204.21,2436.67 207.38,2430.32 210.24,2421.11 215.79,2418.73 219.76,2427.94 223.25,2435.4 226.9,2432.7 230.87,2432.22 234.05,2442.7 237.22,2435.87 239.92,2430.79 243.57,2441.11 247.06,2445.87 250.24,2437.94 253.41,2433.49 257.06,2433.49 260.56,2420.48 263.41,2416.03 267.38,2416.35 270.87,2429.05 273.73,2429.52 276.59,2425.56 280.08,2437.46 284.05,2438.25 286.75,2427.94 290.4,2430 293.57,2437.46 297.54,2440.63 300,2442.7 303.97,2443.02 306.83,2448.57 312.7,2438.25 316.35,2446.98 319.84,2452.86 323.81,2443.02 327.3,2438.25 330.48,2434.6 333.33,2434.29 337.3,2428.41 340.48,2430 343.65,2431.9 346.83,2429.05 350,2418.41 353.17,2424.76 356.35,2430.32 360.32,2433.17 364.29,2439.05 367.46,2439.37 369.84,2426.67 373.33,2436.67 376.98,2446.19 382.06,2445.4 386.51,2439.84 390,2432.7 393.65,2435.08 399.21,2430.32 403.17,2427.14 406.67,2424.76 409.84,2400.63 413.49,2400.95 416.67,2403.33 420.16,2400.16 423.81,2402.22 427.46,2402.54 430.48,2407.3 433.65,2415.24 437.3,2425.56 440.48,2427.94 443.65,2422.7 446.83,2425.24 450,2412.06 453.17,2403.81 457.14,2403.33 460.63,2408.89 464.29,2402.54 470.16,2389.05 474.6,2397.78 476.98,2406.51 479.37,2408.57 482.54,2409.21 486.03,2410.16 490,2407.3 493.33,2395.4 496.83,2395.71 500.32,2394.6 504.76,2405.24 510.32,2399.37 513.49,2412.86 517.46,2412.86 520.63,2403.33 523.81,2407.3 526.98,2415.24 530.16,2410.95 532.06,2410.48"/>
<g stroke="#000" fill="none">
<rect x="1.6" y="1.6" width="1446.9" height="676.6" fill="none" stroke="#000" stroke-width="3.3"/>
<line x1="363.5" y1="1.5" x2="363.5" y2="678" stroke-width="3.4"/>
<line x1="725" y1="1.5" x2="725" y2="678" stroke-width="3.4"/>
<line x1="1087" y1="1.5" x2="1087" y2="678" stroke-width="3.4"/>
<line x1="47.1" y1="678" x2="47.1" y2="684" stroke-width="2"/>
<line x1="159.5" y1="678" x2="159.5" y2="684" stroke-width="2"/>
<line x1="272.8" y1="678" x2="272.8" y2="684" stroke-width="2"/>
<line x1="408.6" y1="678" x2="408.6" y2="684" stroke-width="2"/>
<line x1="521.5" y1="678" x2="521.5" y2="684" stroke-width="2"/>
<line x1="634.5" y1="678" x2="634.5" y2="684" stroke-width="2"/>
<line x1="770.3" y1="678" x2="770.3" y2="684" stroke-width="2"/>
<line x1="883.2" y1="678" x2="883.2" y2="684" stroke-width="2"/>
<line x1="996.2" y1="678" x2="996.2" y2="684" stroke-width="2"/>
<line x1="1132.4" y1="678" x2="1132.4" y2="684" stroke-width="2"/>
<line x1="1245.1" y1="678" x2="1245.1" y2="684" stroke-width="2"/>
<line x1="1357.8" y1="678" x2="1357.8" y2="684" stroke-width="2"/>
<line x1="1449" y1="85.9" x2="1454" y2="85.9" stroke-width="2"/>
<line x1="1449" y1="223.8" x2="1454" y2="223.8" stroke-width="2"/>
<line x1="1449" y1="365.5" x2="1454" y2="365.5" stroke-width="2"/>
<line x1="1449" y1="507.5" x2="1454" y2="507.5" stroke-width="2"/>
<line x1="1449" y1="649.5" x2="1454" y2="649.5" stroke-width="2"/>
</g>
<text x="52.9" y="698.7" font-size="18.2" text-anchor="middle">8.50</text>
<text x="163.5" y="698.7" font-size="18.2" text-anchor="middle">8.25</text>
<text x="275.7" y="698.7" font-size="18.2" text-anchor="middle">8.00</text>
<text x="412" y="698.7" font-size="18.2" text-anchor="middle">8.50</text>
<text x="527.9" y="698.7" font-size="18.2" text-anchor="middle">8.25</text>
<text x="640.3" y="698.7" font-size="18.2" text-anchor="middle">8.00</text>
<text x="773.3" y="698.7" font-size="18.2" text-anchor="middle">8.50</text>
<text x="889" y="698.7" font-size="18.2" text-anchor="middle">8.25</text>
<text x="1001.3" y="698.7" font-size="18.2" text-anchor="middle">8.00</text>
<text x="1138.5" y="698.7" font-size="18.2" text-anchor="middle">8.50</text>
<text x="1250.9" y="698.7" font-size="18.2" text-anchor="middle">8.25</text>
<text x="1363.3" y="698.7" font-size="18.2" text-anchor="middle">8.00</text>
<text x="1460.4" y="90.7" font-size="18.2" textLength="26.2" lengthAdjust="spacingAndGlyphs">110</text>
<text x="1460.4" y="228.9" font-size="18.2" textLength="26.2" lengthAdjust="spacingAndGlyphs">115</text>
<text x="1460.4" y="372.7" font-size="18.2" textLength="26.2" lengthAdjust="spacingAndGlyphs">120</text>
<text x="1460.4" y="513.4" font-size="18.2" textLength="26.2" lengthAdjust="spacingAndGlyphs">125</text>
<text x="1460.4" y="654.1" font-size="18.2" textLength="26.2" lengthAdjust="spacingAndGlyphs">130</text>
<text x="675.8" y="727.8" font-size="18.2">δ<tspan font-size="11.5" dy="4.5">2</tspan><tspan dy="-4.5">(</tspan><tspan font-size="10.5" dy="-5">1</tspan><tspan dy="5">H) [ppm]</tspan></text>
<text x="1457.5" y="298.6" font-size="18.2">δ<tspan font-size="11.5" dy="4.5">1</tspan><tspan dy="-4.5">(</tspan><tspan font-size="10.5" dy="-5">15</tspan><tspan dy="5">N)</tspan></text>
<text x="1461.8" y="319.8" font-size="18.2">[ppm]</text>
<text x="7.2" y="32" font-size="24" font-weight="bold" textLength="10.4" lengthAdjust="spacingAndGlyphs">a</text>
<text x="372.4" y="32" font-size="24" font-weight="bold" textLength="11.4" lengthAdjust="spacingAndGlyphs">b</text>
<text x="734.4" y="32" font-size="24" font-weight="bold" textLength="10.4" lengthAdjust="spacingAndGlyphs">c</text>
<text x="1098.5" y="32" font-size="24" font-weight="bold" textLength="11.5" lengthAdjust="spacingAndGlyphs">d</text>
<text x="212" y="24.3" font-size="18.3" fill="#6d6e71" textLength="92" lengthAdjust="spacingAndGlyphs">α-synuclein</text>
<text x="212" y="46.5" font-size="18.3" fill="#a6d4ea" textLength="148" lengthAdjust="spacingAndGlyphs">2.0 equiv. HSP90β</text>
<text x="212" y="67.8" font-size="18.3" fill="#a6d4ea" textLength="58.5" lengthAdjust="spacingAndGlyphs">+Drugs</text>
<text x="580.3" y="24.3" font-size="18.3" fill="#6d6e71" textLength="92" lengthAdjust="spacingAndGlyphs">α-synuclein</text>
<text x="580.3" y="45.5" font-size="18.3" fill="#1b9bd0" textLength="139.7" lengthAdjust="spacingAndGlyphs">2.0 equiv. HSC70</text>
<text x="982.2" y="24.3" font-size="18.3" fill="#6d6e71" textLength="92" lengthAdjust="spacingAndGlyphs">α-synuclein</text>
<text x="982.2" y="45.5" font-size="18.3" fill="#1b9bd0" textLength="76.5" lengthAdjust="spacingAndGlyphs">2.0 equiv.</text>
<text x="982.2" y="67.2" font-size="18.3" fill="#1b9bd0">HSC70<tspan font-size="10.5" dy="5.5">ADP</tspan></text>
<text x="1342.8" y="26.8" font-size="18.3" fill="#6d6e71" textLength="92" lengthAdjust="spacingAndGlyphs">α-synuclein</text>
<text x="1342.8" y="49.2" font-size="18.3" fill="#1b9bd0" textLength="76.5" lengthAdjust="spacingAndGlyphs">2.0 equiv.</text>
<text x="1342.8" y="70.4" font-size="18.3" fill="#1b9bd0">HSC70<tspan font-size="10.5" dy="5.5">ATP</tspan></text>
<g stroke="#000" stroke-width="1">
<line x1="885.4" y1="24.8" x2="893.2" y2="19.7" stroke-width="1"/>
<line x1="864.8" y1="63.1" x2="851.8" y2="70.9" stroke-width="1"/>
<line x1="862.2" y1="111.2" x2="856" y2="98.3" stroke-width="1"/>
<line x1="1032.8" y1="133.4" x2="1025" y2="138.6" stroke-width="1"/>
<line x1="896.8" y1="261.7" x2="885.4" y2="266.9" stroke-width="1"/>
<line x1="932" y1="354.3" x2="936.1" y2="363.1" stroke-width="1"/>
<line x1="1009.6" y1="395.1" x2="1000.3" y2="400.8" stroke-width="1"/>
<line x1="951.1" y1="414.8" x2="941.3" y2="420.5" stroke-width="1"/>
<line x1="1004.4" y1="450.5" x2="998" y2="455.5" stroke-width="1"/>
<line x1="910.3" y1="537.9" x2="906.1" y2="528.6" stroke-width="1"/>
<line x1="1223.2" y1="121" x2="1219" y2="106" stroke-width="1"/>
<line x1="1400.9" y1="136.5" x2="1389" y2="143.3" stroke-width="1"/>
<line x1="1263" y1="268.9" x2="1252.6" y2="272" stroke-width="1"/>
<line x1="1384.5" y1="398.2" x2="1373.2" y2="404.4" stroke-width="1"/>
</g>
<text x="854.4" y="33.6" font-size="13.8">G31</text>
<text x="871.5" y="68.3" font-size="13.8">G7</text>
<text x="861.1" y="125.2" font-size="13.8">G51</text>
<text x="1037" y="137.6" font-size="13.8">G41</text>
<text x="897.9" y="263.8" font-size="13.8">S9</text>
<text x="920.6" y="349.1" font-size="13.8">V3</text>
<text x="1013.7" y="399.8" font-size="13.8">L8</text>
<text x="951.6" y="417.9" font-size="13.8">M5</text>
<text x="1004.4" y="453.6" font-size="13.8">V40</text>
<text x="902" y="553.4" font-size="13.8">L38</text>
<text x="1214.4" y="134.5" font-size="13.8">G51</text>
<text x="1407.3" y="140.7" font-size="13.8">G41</text>
<text x="1264.5" y="273.1" font-size="13.8">S9</text>
<text x="1388.7" y="401.9" font-size="13.8">L8</text>
<g stroke="#000" fill="none">
<rect x="1.5" y="767.6" width="824.8" height="674.7" fill="none" stroke="#000" stroke-width="3"/>
<line x1="414.1" y1="767.6" x2="414.1" y2="1442.3" stroke-width="3"/>
<line x1="52.9" y1="1442.3" x2="52.9" y2="1448.5" stroke-width="2"/>
<line x1="181.5" y1="1442.3" x2="181.5" y2="1448.5" stroke-width="2"/>
<line x1="310.2" y1="1442.3" x2="310.2" y2="1448.5" stroke-width="2"/>
<line x1="465.1" y1="1442.3" x2="465.1" y2="1448.5" stroke-width="2"/>
<line x1="594.4" y1="1442.3" x2="594.4" y2="1448.5" stroke-width="2"/>
<line x1="723.4" y1="1442.3" x2="723.4" y2="1448.5" stroke-width="2"/>
<line x1="826.3" y1="851.8" x2="832" y2="851.8" stroke-width="2"/>
<line x1="826.3" y1="990" x2="832" y2="990" stroke-width="2"/>
<line x1="826.3" y1="1130.5" x2="832" y2="1130.5" stroke-width="2"/>
<line x1="826.3" y1="1271.5" x2="832" y2="1271.5" stroke-width="2"/>
<line x1="826.3" y1="1414.7" x2="832" y2="1414.7" stroke-width="2"/>
</g>
<text x="63.5" y="1463.7" font-size="18.2" text-anchor="middle">8.50</text>
<text x="208.3" y="1463.7" font-size="18.2" text-anchor="middle">8.25</text>
<text x="352.8" y="1463.7" font-size="18.2" text-anchor="middle">8.00</text>
<text x="525.7" y="1463.7" font-size="18.2" text-anchor="middle">8.50</text>
<text x="669.5" y="1463.7" font-size="18.2" text-anchor="middle">8.25</text>
<text x="814" y="1463.7" font-size="18.2" text-anchor="middle">8.00</text>
<text x="840.5" y="859.4" font-size="18.2">110</text>
<text x="840.5" y="994.4" font-size="18.2">115</text>
<text x="840.5" y="1138.9" font-size="18.2">120</text>
<text x="840.5" y="1278.9" font-size="18.2">125</text>
<text x="840.5" y="1420.1" font-size="18.2">130</text>
<text x="395.8" y="1489.8" font-size="18.2">δ<tspan font-size="11.5" dy="4.5">2</tspan><tspan dy="-4.5">(</tspan><tspan font-size="10.5" dy="-5">1</tspan><tspan dy="5">H) [ppm]</tspan></text>
<text x="841.3" y="915.7" font-size="18.2">δ<tspan font-size="11.5" dy="4.5">1</tspan><tspan dy="-4.5">(</tspan><tspan font-size="10.5" dy="-5">15</tspan><tspan dy="5">N)</tspan></text>
<text x="844.8" y="936.5" font-size="18.2">[ppm]</text>
<text x="9.3" y="790.6" font-size="24" font-weight="bold" textLength="12.4" lengthAdjust="spacingAndGlyphs">e</text>
<text x="421.5" y="791.4" font-size="24" font-weight="bold" textLength="7.8" lengthAdjust="spacingAndGlyphs">f</text>
<text x="288" y="789.8" font-size="18.3" fill="#6d6e71" textLength="91" lengthAdjust="spacingAndGlyphs">α-synuclein</text>
<text x="288" y="811" font-size="18.3" fill="#1a69a6" textLength="117" lengthAdjust="spacingAndGlyphs">2.0 equiv. BSA</text>
<text x="671.3" y="793" font-size="18.3" fill="#6d6e71" textLength="92" lengthAdjust="spacingAndGlyphs">α-synuclein</text>
<text x="671.3" y="814.6" font-size="18.3" fill="#1b5a9a" textLength="152" lengthAdjust="spacingAndGlyphs">2.0 equiv. Ubiquitin</text>
<g stroke="#000" fill="none">
<rect x="971.4" y="767" width="571.4" height="674.5" fill="none" stroke="#000" stroke-width="3"/>
<line x1="971.4" y1="861.9" x2="1542.8" y2="861.9" stroke-width="3"/>
<line x1="971.4" y1="957.5" x2="1542.8" y2="957.5" stroke-width="3"/>
<line x1="971.4" y1="1053.7" x2="1542.8" y2="1053.7" stroke-width="3"/>
<line x1="971.4" y1="1151" x2="1542.8" y2="1151" stroke-width="3"/>
<line x1="971.4" y1="1248" x2="1542.8" y2="1248" stroke-width="3"/>
<line x1="971.4" y1="1345" x2="1542.8" y2="1345" stroke-width="3"/>
<line x1="964.3" y1="789.7" x2="971.4" y2="789.7" stroke-width="2.8"/>
<line x1="964.3" y1="837.9" x2="971.4" y2="837.9" stroke-width="2.8"/>
<line x1="964.3" y1="884.9" x2="971.4" y2="884.9" stroke-width="2.8"/>
<line x1="964.3" y1="933" x2="971.4" y2="933" stroke-width="2.8"/>
<line x1="964.3" y1="981.7" x2="971.4" y2="981.7" stroke-width="2.8"/>
<line x1="964.3" y1="1029.8" x2="971.4" y2="1029.8" stroke-width="2.8"/>
<line x1="964.3" y1="1078.4" x2="971.4" y2="1078.4" stroke-width="2.8"/>
<line x1="964.3" y1="1176.4" x2="971.4" y2="1176.4" stroke-width="2.8"/>
<line x1="964.3" y1="1223.6" x2="971.4" y2="1223.6" stroke-width="2.8"/>
<line x1="964.3" y1="1272.6" x2="971.4" y2="1272.6" stroke-width="2.8"/>
<line x1="964.3" y1="1320.5" x2="971.4" y2="1320.5" stroke-width="2.8"/>
<line x1="964.3" y1="1369" x2="971.4" y2="1369" stroke-width="2.8"/>
<line x1="964.3" y1="1417.2" x2="971.4" y2="1417.2" stroke-width="2.8"/>
<line x1="1049.8" y1="1441.5" x2="1049.8" y2="1445.9" stroke-width="3"/>
<line x1="1128" y1="1441.5" x2="1128" y2="1445.9" stroke-width="3"/>
<line x1="1209.6" y1="1441.5" x2="1209.6" y2="1445.9" stroke-width="3"/>
<line x1="1291" y1="1441.5" x2="1291" y2="1445.9" stroke-width="3"/>
<line x1="1372.4" y1="1441.5" x2="1372.4" y2="1445.9" stroke-width="3"/>
<line x1="1454.6" y1="1441.5" x2="1454.6" y2="1445.9" stroke-width="3"/>
<line x1="1536.2" y1="1441.5" x2="1536.2" y2="1445.9" stroke-width="3"/>
</g>
<text x="961.5" y="799.1" font-size="18.2" text-anchor="end">0.06</text>
<text x="961.5" y="843.7" font-size="18.2" text-anchor="end">0.02</text>
<text x="961.5" y="890.7" font-size="18.2" text-anchor="end">0.06</text>
<text x="961.5" y="938.6" font-size="18.2" text-anchor="end">0.02</text>
<text x="961.5" y="987.6" font-size="18.2" text-anchor="end">0.06</text>
<text x="961.5" y="1035.6" font-size="18.2" text-anchor="end">0.02</text>
<text x="961.5" y="1084.3" font-size="18.2" text-anchor="end">0.06</text>
<text x="961.5" y="1182.4" font-size="18.2" text-anchor="end">0.06</text>
<text x="961.5" y="1229.4" font-size="18.2" text-anchor="end">0.02</text>
<text x="961.5" y="1278.7" font-size="18.2" text-anchor="end">0.06</text>
<text x="961.5" y="1326.4" font-size="18.2" text-anchor="end">0.02</text>
<text x="961.5" y="1375" font-size="18.2" text-anchor="end">0.06</text>
<text x="961.5" y="1423.2" font-size="18.2" text-anchor="end">0.02</text>
<text x="1049.4" y="1462.7" font-size="18.2" text-anchor="middle">20</text>
<text x="1127.5" y="1462.7" font-size="18.2" text-anchor="middle">40</text>
<text x="1210.2" y="1462.7" font-size="18.2" text-anchor="middle">60</text>
<text x="1291.4" y="1462.7" font-size="18.2" text-anchor="middle">80</text>
<text x="1372.6" y="1462.7" font-size="18.2" text-anchor="middle">100</text>
<text x="1454.4" y="1462.7" font-size="18.2" text-anchor="middle">120</text>
<text x="1533.5" y="1462.7" font-size="18.2" text-anchor="middle">140</text>
<text x="1129.6" y="1489.6" font-size="18.2" textLength="223" lengthAdjust="spacingAndGlyphs">α-synuclein residue number</text>
<text x="892.2" y="1115" font-size="18.2" textLength="57" lengthAdjust="spacingAndGlyphs">Δδ(HN)</text>
<text x="898.4" y="1138" font-size="18.2" textLength="45" lengthAdjust="spacingAndGlyphs">[ppm]</text>
<text x="976" y="790" font-size="24" font-weight="bold">g</text>
<text x="1468" y="790.7" font-size="17.3" fill="#3fa9d8" font-weight="bold" textLength="55" lengthAdjust="spacingAndGlyphs">HSP90</text>
<text x="1409.4" y="884.3" font-size="17.3" fill="#a6d4ea" font-weight="bold" textLength="135.4" lengthAdjust="spacingAndGlyphs">HSP90β + Drugs</text>
<text x="1467.4" y="979.6" font-size="17.3" fill="#1094c8" font-weight="bold" textLength="56" lengthAdjust="spacingAndGlyphs">HSC70</text>
<text x="1459.4" y="1078" font-size="17.3" fill="#1094c8" font-weight="bold">HSC70<tspan font-size="10.8" dy="5.3">ADP</tspan></text>
<text x="1459.5" y="1174" font-size="17.3" fill="#1094c8" font-weight="bold">HSC70<tspan font-size="10.8" dy="5.3">ATP</tspan></text>
<text x="1476.6" y="1269.8" font-size="17.3" fill="#1072ae" font-weight="bold" textLength="37.2" lengthAdjust="spacingAndGlyphs">BSA</text>
<text x="1450.2" y="1368" font-size="17.3" fill="#0a5b9c" font-weight="bold" textLength="76.6" lengthAdjust="spacingAndGlyphs">Ubiquitin</text>
<g stroke="#000" fill="none">
<rect x="48.1" y="1515.6" width="474.1" height="675.6" fill="none" stroke="#000" stroke-width="3"/>
<line x1="48.1" y1="1684.3" x2="522.2" y2="1684.3" stroke-width="3"/>
<line x1="48.1" y1="1853.5" x2="522.2" y2="1853.5" stroke-width="3"/>
<line x1="48.1" y1="2022.2" x2="522.2" y2="2022.2" stroke-width="3"/>
<line x1="42.3" y1="1549.1" x2="48.1" y2="1549.1" stroke-width="2.8"/>
<line x1="42.3" y1="1617" x2="48.1" y2="1617" stroke-width="2.8"/>
<line x1="42.3" y1="1718.2" x2="48.1" y2="1718.2" stroke-width="2.8"/>
<line x1="42.3" y1="1786.2" x2="48.1" y2="1786.2" stroke-width="2.8"/>
<line x1="42.3" y1="1887" x2="48.1" y2="1887" stroke-width="2.8"/>
<line x1="42.3" y1="1954.5" x2="48.1" y2="1954.5" stroke-width="2.8"/>
<line x1="42.3" y1="2055.3" x2="48.1" y2="2055.3" stroke-width="2.8"/>
<line x1="42.3" y1="2122.7" x2="48.1" y2="2122.7" stroke-width="2.8"/>
<line x1="42.3" y1="2191.2" x2="48.1" y2="2191.2" stroke-width="3"/>
<line x1="117.3" y1="2191.2" x2="117.3" y2="2196.8" stroke-width="2.6"/>
<line x1="181.5" y1="2191.2" x2="181.5" y2="2196.8" stroke-width="2.6"/>
<line x1="249.6" y1="2191.2" x2="249.6" y2="2196.8" stroke-width="2.6"/>
<line x1="316.5" y1="2191.2" x2="316.5" y2="2196.8" stroke-width="2.6"/>
<line x1="384.3" y1="2191.2" x2="384.3" y2="2196.8" stroke-width="2.6"/>
<line x1="452.5" y1="2191.2" x2="452.5" y2="2196.8" stroke-width="2.6"/>
<line x1="518.7" y1="2191.2" x2="518.7" y2="2196.8" stroke-width="2.6"/>
</g>
<text x="37.3" y="1556.6" font-size="18.2" text-anchor="end">0.8</text>
<text x="37.3" y="1625.1" font-size="18.2" text-anchor="end">0.4</text>
<text x="37.3" y="1724.1" font-size="18.2" text-anchor="end">0.8</text>
<text x="37.3" y="1791.5" font-size="18.2" text-anchor="end">0.4</text>
<text x="37.3" y="1894.1" font-size="18.2" text-anchor="end">0.8</text>
<text x="37.3" y="1961.6" font-size="18.2" text-anchor="end">0.4</text>
<text x="37.3" y="2062.4" font-size="18.2" text-anchor="end">0.8</text>
<text x="37.3" y="2129.8" font-size="18.2" text-anchor="end">0.4</text>
<text x="37.3" y="2198.1" font-size="18.2" text-anchor="end">0.0</text>
<text x="117.7" y="2215.3" font-size="18.2" text-anchor="middle">20</text>
<text x="181.5" y="2215.3" font-size="18.2" text-anchor="middle">40</text>
<text x="249.6" y="2215.3" font-size="18.2" text-anchor="middle">60</text>
<text x="316.5" y="2215.3" font-size="18.2" text-anchor="middle">80</text>
<text x="384.3" y="2215.3" font-size="18.2" text-anchor="middle">100</text>
<text x="452.5" y="2215.3" font-size="18.2" text-anchor="middle">120</text>
<text x="518.7" y="2215.3" font-size="18.2" text-anchor="middle">140</text>
<text x="204.4" y="2241" font-size="18.2" textLength="223" lengthAdjust="spacingAndGlyphs">α-synuclein residue number</text>
<text x="7.5" y="1852" font-size="25" font-weight="bold" font-style="italic">I<tspan font-size="14" dy="6">rel</tspan></text>
<text x="63.9" y="1542.6" font-size="23" font-weight="bold">h</text>
<text x="68.5" y="1675.5" font-size="17.3" fill="#fff" font-weight="bold" textLength="117" lengthAdjust="spacingAndGlyphs">HSP90+Drugs</text>
<text x="68.5" y="1847" font-size="17.3" fill="#fff" font-weight="bold" textLength="57" lengthAdjust="spacingAndGlyphs">HSC70</text>
<text x="68.5" y="2005.7" font-size="17.6" fill="#fff" font-weight="bold">HSC70<tspan font-size="11" dy="6" dx="0.5">ATP</tspan></text>
<text x="68.5" y="2181.3" font-size="17.3" fill="#fff" font-weight="bold" textLength="205" lengthAdjust="spacingAndGlyphs">BSA: 2 equiv.= 33 mg/ml</text>
<g stroke="#000" fill="none">
<rect x="578.6" y="1515.5" width="972.3" height="846.1" fill="none" stroke="#000" stroke-width="3"/>
<line x1="578.6" y1="1685.3" x2="1550.9" y2="1685.3" stroke-width="3"/>
<line x1="578.6" y1="1854.9" x2="1550.9" y2="1854.9" stroke-width="3"/>
<line x1="578.6" y1="2024.2" x2="1550.9" y2="2024.2" stroke-width="3"/>
<line x1="578.6" y1="2193" x2="1550.9" y2="2193" stroke-width="3"/>
<line x1="1064.6" y1="1515.5" x2="1064.6" y2="2361.6" stroke-width="3.7"/>
<line x1="571" y1="1549.2" x2="578.6" y2="1549.2" stroke-width="2.8"/>
<line x1="571" y1="1617" x2="578.6" y2="1617" stroke-width="2.8"/>
<line x1="571" y1="1718.8" x2="578.6" y2="1718.8" stroke-width="2.8"/>
<line x1="571" y1="1786.6" x2="578.6" y2="1786.6" stroke-width="2.8"/>
<line x1="571" y1="1888.1" x2="578.6" y2="1888.1" stroke-width="2.8"/>
<line x1="571" y1="1955.9" x2="578.6" y2="1955.9" stroke-width="2.8"/>
<line x1="571" y1="2056.9" x2="578.6" y2="2056.9" stroke-width="2.8"/>
<line x1="571" y1="2124.7" x2="578.6" y2="2124.7" stroke-width="2.8"/>
<line x1="571" y1="2225.5" x2="578.6" y2="2225.5" stroke-width="2.8"/>
<line x1="571" y1="2293.3" x2="578.6" y2="2293.3" stroke-width="2.8"/>
<line x1="571" y1="2361.6" x2="578.6" y2="2361.6" stroke-width="3"/>
<line x1="647.3" y1="2361.6" x2="647.3" y2="2367" stroke-width="2.6"/>
<line x1="1134.3" y1="2361.6" x2="1134.3" y2="2367" stroke-width="2.6"/>
<line x1="716.3" y1="2361.6" x2="716.3" y2="2367" stroke-width="2.6"/>
<line x1="1203.3" y1="2361.6" x2="1203.3" y2="2367" stroke-width="2.6"/>
<line x1="785.3" y1="2361.6" x2="785.3" y2="2367" stroke-width="2.6"/>
<line x1="1272.3" y1="2361.6" x2="1272.3" y2="2367" stroke-width="2.6"/>
<line x1="854.3" y1="2361.6" x2="854.3" y2="2367" stroke-width="2.6"/>
<line x1="1341.3" y1="2361.6" x2="1341.3" y2="2367" stroke-width="2.6"/>
<line x1="923.3" y1="2361.6" x2="923.3" y2="2367" stroke-width="2.6"/>
<line x1="1410.3" y1="2361.6" x2="1410.3" y2="2367" stroke-width="2.6"/>
<line x1="992.3" y1="2361.6" x2="992.3" y2="2367" stroke-width="2.6"/>
<line x1="1479.3" y1="2361.6" x2="1479.3" y2="2367" stroke-width="2.6"/>
<line x1="1061.3" y1="2361.6" x2="1061.3" y2="2367" stroke-width="2.6"/>
<line x1="1548.3" y1="2361.6" x2="1548.3" y2="2367" stroke-width="2.6"/>
</g>
<text x="541.4" y="1554.2" font-size="18.2" textLength="28.2" lengthAdjust="spacingAndGlyphs">0.8</text>
<text x="541.4" y="1622" font-size="18.2" textLength="28.2" lengthAdjust="spacingAndGlyphs">0.4</text>
<text x="541.4" y="1723.8" font-size="18.2" textLength="28.2" lengthAdjust="spacingAndGlyphs">0.8</text>
<text x="541.4" y="1791.6" font-size="18.2" textLength="28.2" lengthAdjust="spacingAndGlyphs">0.4</text>
<text x="541.4" y="1893.1" font-size="18.2" textLength="28.2" lengthAdjust="spacingAndGlyphs">0.8</text>
<text x="541.4" y="1960.9" font-size="18.2" textLength="28.2" lengthAdjust="spacingAndGlyphs">0.4</text>
<text x="541.4" y="2061.9" font-size="18.2" textLength="28.2" lengthAdjust="spacingAndGlyphs">0.8</text>
<text x="541.4" y="2129.7" font-size="18.2" textLength="28.2" lengthAdjust="spacingAndGlyphs">0.4</text>
<text x="541.4" y="2230.5" font-size="18.2" textLength="28.2" lengthAdjust="spacingAndGlyphs">0.8</text>
<text x="541.4" y="2298.3" font-size="18.2" textLength="28.2" lengthAdjust="spacingAndGlyphs">0.4</text>
<text x="541.4" y="2367.1" font-size="18.2" textLength="28.2" lengthAdjust="spacingAndGlyphs">0.0</text>
<text x="647.5" y="2383" font-size="18.2" text-anchor="middle">20</text>
<text x="713.7" y="2383" font-size="18.2" text-anchor="middle">40</text>
<text x="785" y="2383" font-size="18.2" text-anchor="middle">60</text>
<text x="852.3" y="2383" font-size="18.2" text-anchor="middle">80</text>
<text x="921.6" y="2383" font-size="18.2" text-anchor="middle">100</text>
<text x="990.4" y="2383" font-size="18.2" text-anchor="middle">120</text>
<text x="1061.3" y="2383" font-size="18.2" text-anchor="middle">140</text>
<text x="1134.7" y="2383" font-size="18.2" text-anchor="middle">20</text>
<text x="1200.9" y="2383" font-size="18.2" text-anchor="middle">40</text>
<text x="1270.8" y="2383" font-size="18.2" text-anchor="middle">60</text>
<text x="1339" y="2383" font-size="18.2" text-anchor="middle">80</text>
<text x="1408.3" y="2383" font-size="18.2" text-anchor="middle">100</text>
<text x="1477.6" y="2383" font-size="18.2" text-anchor="middle">120</text>
<text x="1549" y="2383" font-size="18.2" text-anchor="middle">140</text>
<text x="969.2" y="2411.5" font-size="18.2" textLength="223" lengthAdjust="spacingAndGlyphs">α-synuclein residue number</text>
<text x="534.5" y="2005.8" font-size="25" font-style="italic">I<tspan font-size="14" dy="6">rel</tspan></text>
<text x="591" y="1570.4" font-size="23" fill="#fff" font-weight="bold">i</text>
<text x="1080" y="1570.4" font-size="23" fill="#fff" font-weight="bold">j</text>
<text x="794.2" y="1630.5" font-size="18.8" fill="#fff" font-weight="bold" textLength="42.5" lengthAdjust="spacingAndGlyphs">BSA</text>
<text x="1256.5" y="1630.5" font-size="18.8" fill="#fff" font-weight="bold" textLength="89" lengthAdjust="spacingAndGlyphs">Ubiquitin</text>
<text x="781.5" y="1678" font-size="17.7" fill="#fff" font-weight="bold">50 mg/ml</text>
<text x="771" y="1847.5" font-size="17.7" fill="#fff" font-weight="bold">100 mg/ml</text>
<text x="771" y="2014.5" font-size="17.7" fill="#fff" font-weight="bold">150 mg/ml</text>
<text x="771" y="2185.5" font-size="17.7" fill="#fff" font-weight="bold">200 mg/ml</text>
<text x="776" y="2352.5" font-size="17.7" fill="#fff" font-weight="bold">250 mg/ml</text>
<text x="1267.9" y="1678" font-size="17.7" fill="#fff" font-weight="bold">25 mg/ml</text>
<text x="1261.9" y="1847.5" font-size="17.7" fill="#fff" font-weight="bold">50 mg/ml</text>
<text x="1261" y="2014.5" font-size="17.7" fill="#fff" font-weight="bold">75 mg/ml</text>
<text x="1256" y="2185.5" font-size="17.7" fill="#fff" font-weight="bold">100 mg/ml</text>
<text x="1263" y="2352.5" font-size="17.7" fill="#fff" font-weight="bold">125 mg/ml</text>
<g stroke="#000" fill="none">
<rect x="72.3" y="2254.7" width="460.6" height="98.1" fill="none" stroke="#000" stroke-width="2"/>
<line x1="139.6" y1="2352.8" x2="139.6" y2="2358.1" stroke-width="2"/>
<line x1="202.8" y1="2352.8" x2="202.8" y2="2358.1" stroke-width="2"/>
<line x1="268.5" y1="2352.8" x2="268.5" y2="2358.1" stroke-width="2"/>
<line x1="333.3" y1="2352.8" x2="333.3" y2="2358.1" stroke-width="2"/>
<line x1="398.9" y1="2352.8" x2="398.9" y2="2358.1" stroke-width="2"/>
<line x1="465.1" y1="2352.8" x2="465.1" y2="2358.1" stroke-width="2"/>
<rect x="72.3" y="2380.2" width="460.6" height="99.1" fill="none" stroke="#000" stroke-width="2"/>
<line x1="139.6" y1="2479.3" x2="139.6" y2="2484.6" stroke-width="2"/>
<line x1="202.8" y1="2479.3" x2="202.8" y2="2484.6" stroke-width="2"/>
<line x1="268.5" y1="2479.3" x2="268.5" y2="2484.6" stroke-width="2"/>
<line x1="333.3" y1="2479.3" x2="333.3" y2="2484.6" stroke-width="2"/>
<line x1="398.9" y1="2479.3" x2="398.9" y2="2484.6" stroke-width="2"/>
<line x1="465.1" y1="2479.3" x2="465.1" y2="2484.6" stroke-width="2"/>
<line x1="67.5" y1="2254.7" x2="72.3" y2="2254.7" stroke-width="2"/>
<line x1="67.5" y1="2313.7" x2="72.3" y2="2313.7" stroke-width="2"/>
<line x1="67.5" y1="2352.8" x2="72.3" y2="2352.8" stroke-width="2"/>
<line x1="67.5" y1="2380.2" x2="72.3" y2="2380.2" stroke-width="2"/>
<line x1="67.5" y1="2404.6" x2="72.3" y2="2404.6" stroke-width="2"/>
<line x1="67.5" y1="2454.9" x2="72.3" y2="2454.9" stroke-width="2"/>
<line x1="67.5" y1="2479.3" x2="72.3" y2="2479.3" stroke-width="2"/>
</g>
<text x="64.5" y="2261.8" font-size="18.2" text-anchor="end">0.8</text>
<text x="64.5" y="2320.3" font-size="18.2" text-anchor="end">0.0</text>
<text x="64.5" y="2358.6" font-size="18.2" text-anchor="end">-0.6</text>
<text x="64.5" y="2385.4" font-size="18.2" text-anchor="end">25</text>
<text x="64.5" y="2411" font-size="18.2" text-anchor="end">15</text>
<text x="64.5" y="2461.2" font-size="18.2" text-anchor="end">-5</text>
<text x="64.5" y="2484.6" font-size="18.2" text-anchor="end">-15</text>
<text x="138.9" y="2372.9" font-size="18.2" text-anchor="middle">20</text>
<text x="202.4" y="2372.9" font-size="18.2" text-anchor="middle">40</text>
<text x="267.9" y="2372.9" font-size="18.2" text-anchor="middle">60</text>
<text x="333.3" y="2372.9" font-size="18.2" text-anchor="middle">80</text>
<text x="398.9" y="2372.9" font-size="18.2" text-anchor="middle">100</text>
<text x="465.1" y="2372.9" font-size="18.2" text-anchor="middle">120</text>
<text x="138.9" y="2499.8" font-size="18.2" text-anchor="middle">20</text>
<text x="202.4" y="2499.8" font-size="18.2" text-anchor="middle">40</text>
<text x="267.9" y="2499.8" font-size="18.2" text-anchor="middle">60</text>
<text x="333.3" y="2499.8" font-size="18.2" text-anchor="middle">80</text>
<text x="398.9" y="2499.8" font-size="18.2" text-anchor="middle">100</text>
<text x="465.1" y="2499.8" font-size="18.2" text-anchor="middle">120</text>
<text x="1.6" y="2279.2" font-size="18.2" textLength="68.2" lengthAdjust="spacingAndGlyphs">Δ<tspan font-style="italic">F</tspan> [kcal/</text>
<text x="18.8" y="2300.6" font-size="18.2" textLength="32.4" lengthAdjust="spacingAndGlyphs">mol]</text>
<text x="19.4" y="2424" font-size="18.2" textLength="44.5" lengthAdjust="spacingAndGlyphs">DnaK</text>
<text x="19.4" y="2445.5" font-size="18.2" textLength="43.7" lengthAdjust="spacingAndGlyphs">score</text>
<text x="76.4" y="2275.6" font-size="23" font-weight="bold">k</text>
<text x="76.4" y="2400.6" font-size="23" font-weight="bold">l</text>
<text x="184.5" y="2516.3" font-size="18.2" textLength="223" lengthAdjust="spacingAndGlyphs">α-synuclein residue number</text>
</svg>
</body>
</html>
